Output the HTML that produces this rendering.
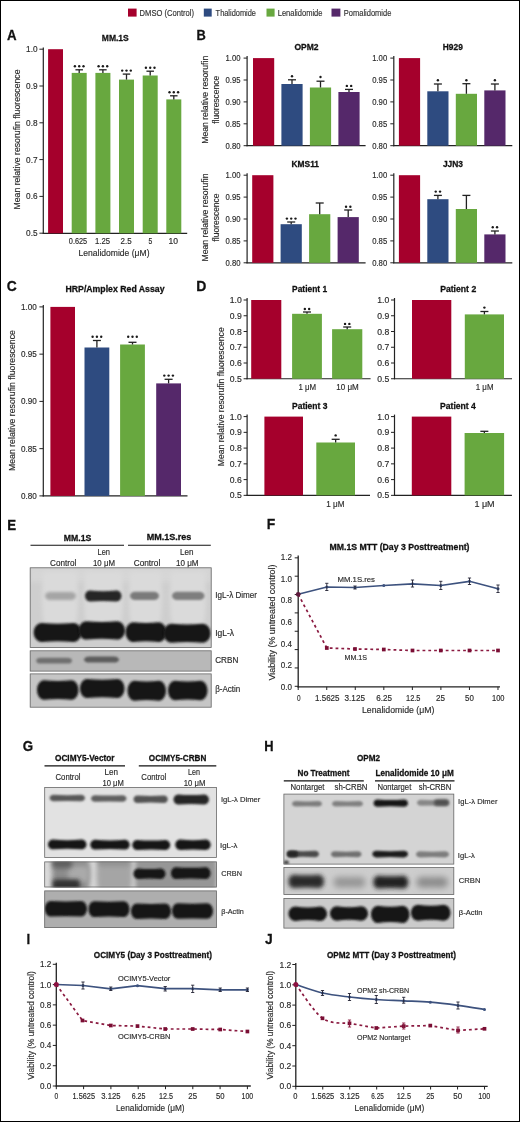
<!DOCTYPE html><html><head><meta charset="utf-8"><title>Figure</title><style>html,body{margin:0;padding:0;background:#fff;width:520px;height:1122px;overflow:hidden;}svg{display:block;font-family:"Liberation Sans",sans-serif;filter:blur(0.35px);}</style></head><body><svg width="520" height="1122" viewBox="0 0 520 1122" font-family="Liberation Sans, sans-serif"><defs><filter id="b4" x="-30%" y="-60%" width="160%" height="220%"><feGaussianBlur stdDeviation="0.4"/></filter><filter id="b5" x="-30%" y="-60%" width="160%" height="220%"><feGaussianBlur stdDeviation="0.5"/></filter><filter id="b6" x="-30%" y="-60%" width="160%" height="220%"><feGaussianBlur stdDeviation="0.6"/></filter><filter id="b7" x="-30%" y="-60%" width="160%" height="220%"><feGaussianBlur stdDeviation="0.7"/></filter><filter id="b8" x="-30%" y="-60%" width="160%" height="220%"><feGaussianBlur stdDeviation="0.8"/></filter><filter id="b9" x="-30%" y="-60%" width="160%" height="220%"><feGaussianBlur stdDeviation="0.9"/></filter><filter id="b10" x="-30%" y="-60%" width="160%" height="220%"><feGaussianBlur stdDeviation="1.0"/></filter><filter id="b11" x="-30%" y="-60%" width="160%" height="220%"><feGaussianBlur stdDeviation="1.1"/></filter><filter id="b12" x="-30%" y="-60%" width="160%" height="220%"><feGaussianBlur stdDeviation="1.2"/></filter><filter id="b13" x="-30%" y="-60%" width="160%" height="220%"><feGaussianBlur stdDeviation="1.3"/></filter><filter id="b14" x="-30%" y="-60%" width="160%" height="220%"><feGaussianBlur stdDeviation="1.4"/></filter><filter id="b15" x="-30%" y="-60%" width="160%" height="220%"><feGaussianBlur stdDeviation="1.5"/></filter><filter id="b16" x="-30%" y="-60%" width="160%" height="220%"><feGaussianBlur stdDeviation="1.6"/></filter><filter id="b17" x="-30%" y="-60%" width="160%" height="220%"><feGaussianBlur stdDeviation="1.7"/></filter><filter id="b18" x="-30%" y="-60%" width="160%" height="220%"><feGaussianBlur stdDeviation="1.8"/></filter><filter id="b19" x="-30%" y="-60%" width="160%" height="220%"><feGaussianBlur stdDeviation="1.9"/></filter><filter id="b20" x="-30%" y="-60%" width="160%" height="220%"><feGaussianBlur stdDeviation="2.0"/></filter><filter id="b21" x="-30%" y="-60%" width="160%" height="220%"><feGaussianBlur stdDeviation="2.1"/></filter><filter id="b22" x="-30%" y="-60%" width="160%" height="220%"><feGaussianBlur stdDeviation="2.2"/></filter><filter id="b23" x="-30%" y="-60%" width="160%" height="220%"><feGaussianBlur stdDeviation="2.3"/></filter><filter id="b24" x="-30%" y="-60%" width="160%" height="220%"><feGaussianBlur stdDeviation="2.4"/></filter><filter id="b25" x="-30%" y="-60%" width="160%" height="220%"><feGaussianBlur stdDeviation="2.5"/></filter><filter id="b26" x="-30%" y="-60%" width="160%" height="220%"><feGaussianBlur stdDeviation="2.6"/></filter><filter id="b27" x="-30%" y="-60%" width="160%" height="220%"><feGaussianBlur stdDeviation="2.7"/></filter><filter id="b28" x="-30%" y="-60%" width="160%" height="220%"><feGaussianBlur stdDeviation="2.8"/></filter><filter id="b29" x="-30%" y="-60%" width="160%" height="220%"><feGaussianBlur stdDeviation="2.9"/></filter><filter id="b30" x="-30%" y="-60%" width="160%" height="220%"><feGaussianBlur stdDeviation="3.0"/></filter><filter id="b31" x="-30%" y="-60%" width="160%" height="220%"><feGaussianBlur stdDeviation="3.1"/></filter><filter id="b32" x="-30%" y="-60%" width="160%" height="220%"><feGaussianBlur stdDeviation="3.2"/></filter><filter id="b33" x="-30%" y="-60%" width="160%" height="220%"><feGaussianBlur stdDeviation="3.3"/></filter><filter id="b34" x="-30%" y="-60%" width="160%" height="220%"><feGaussianBlur stdDeviation="3.4"/></filter><filter id="b35" x="-30%" y="-60%" width="160%" height="220%"><feGaussianBlur stdDeviation="3.5"/></filter><filter id="b36" x="-30%" y="-60%" width="160%" height="220%"><feGaussianBlur stdDeviation="3.6"/></filter><filter id="b37" x="-30%" y="-60%" width="160%" height="220%"><feGaussianBlur stdDeviation="3.7"/></filter><filter id="b38" x="-30%" y="-60%" width="160%" height="220%"><feGaussianBlur stdDeviation="3.8"/></filter><filter id="b39" x="-30%" y="-60%" width="160%" height="220%"><feGaussianBlur stdDeviation="3.9"/></filter><filter id="b40" x="-30%" y="-60%" width="160%" height="220%"><feGaussianBlur stdDeviation="4.0"/></filter><style>text{stroke:#2e2e2e;stroke-width:0.16px} text[font-weight]{stroke:#111;stroke-width:0.26px}</style></defs><rect width="520" height="1122" fill="#fff"/><rect x="0.5" y="0.5" width="519" height="1121" fill="none" stroke="#000" stroke-width="1"/>
<rect x="128.00" y="8.60" width="8.60" height="8.00" fill="#a5002c" />
<rect x="203.80" y="8.60" width="7.90" height="8.00" fill="#2e4b80" />
<rect x="266.50" y="8.60" width="8.10" height="8.00" fill="#68a83f" />
<rect x="331.50" y="8.60" width="8.90" height="8.00" fill="#55286a" />
<text x="139.60" y="15.50" font-size="9.20" fill="#333" textLength="54.40" lengthAdjust="spacingAndGlyphs">DMSO (Control)</text>
<text x="215.60" y="15.50" font-size="9.20" fill="#333" textLength="40.40" lengthAdjust="spacingAndGlyphs">Thalidomide</text>
<text x="277.70" y="15.50" font-size="9.20" fill="#333" textLength="44.80" lengthAdjust="spacingAndGlyphs">Lenalidomide</text>
<text x="343.80" y="15.50" font-size="9.20" fill="#333" textLength="47.50" lengthAdjust="spacingAndGlyphs">Pomalidomide</text>
<text x="7.00" y="39.70" font-size="14.39" font-weight="bold" fill="#111" stroke="#111" stroke-width="0.35" textLength="9.60" lengthAdjust="spacingAndGlyphs">A</text>
<text x="101.80" y="40.70" font-size="9.00" font-weight="bold" stroke="#111" stroke-width="0.22" fill="#111" textLength="27.00" lengthAdjust="spacingAndGlyphs">MM.1S</text>
<line x1="43.30" y1="47.50" x2="43.30" y2="233.80" stroke="#222" stroke-width="1.2" />
<line x1="42.70" y1="233.30" x2="187.20" y2="233.30" stroke="#222" stroke-width="1.2" />
<line x1="39.40" y1="49.20" x2="43.30" y2="49.20" stroke="#222" stroke-width="1.0" />
<text x="37.60" y="52.20" font-size="8.60" fill="#2a2a2a" text-anchor="end" textLength="11.50" lengthAdjust="spacingAndGlyphs">1.0</text>
<line x1="39.40" y1="86.00" x2="43.30" y2="86.00" stroke="#222" stroke-width="1.0" />
<text x="37.60" y="89.00" font-size="8.60" fill="#2a2a2a" text-anchor="end" textLength="11.50" lengthAdjust="spacingAndGlyphs">0.9</text>
<line x1="39.40" y1="122.80" x2="43.30" y2="122.80" stroke="#222" stroke-width="1.0" />
<text x="37.60" y="125.80" font-size="8.60" fill="#2a2a2a" text-anchor="end" textLength="11.50" lengthAdjust="spacingAndGlyphs">0.8</text>
<line x1="39.40" y1="159.60" x2="43.30" y2="159.60" stroke="#222" stroke-width="1.0" />
<text x="37.60" y="162.60" font-size="8.60" fill="#2a2a2a" text-anchor="end" textLength="11.50" lengthAdjust="spacingAndGlyphs">0.7</text>
<line x1="39.40" y1="196.40" x2="43.30" y2="196.40" stroke="#222" stroke-width="1.0" />
<text x="37.60" y="199.40" font-size="8.60" fill="#2a2a2a" text-anchor="end" textLength="11.50" lengthAdjust="spacingAndGlyphs">0.6</text>
<line x1="39.40" y1="233.20" x2="43.30" y2="233.20" stroke="#222" stroke-width="1.0" />
<text x="37.60" y="236.20" font-size="8.60" fill="#2a2a2a" text-anchor="end" textLength="11.50" lengthAdjust="spacingAndGlyphs">0.5</text>
<text transform="translate(19.54,139.50) rotate(-90)" x="0" y="0" font-size="8.60" fill="#2a2a2a" text-anchor="middle" textLength="140.00" lengthAdjust="spacingAndGlyphs">Mean relative resorufin fluorescence</text>
<rect x="48.10" y="49.20" width="14.90" height="184.10" fill="#a5002c" />
<rect x="71.70" y="72.90" width="15.00" height="160.40" fill="#68a83f" />
<line x1="79.20" y1="72.90" x2="79.20" y2="69.80" stroke="#222" stroke-width="1.3" />
<line x1="75.45" y1="69.80" x2="82.95" y2="69.80" stroke="#222" stroke-width="1.3" />
<circle cx="74.90" cy="66.30" r="1.2" fill="#1a1a1a"/>
<circle cx="79.20" cy="66.30" r="1.2" fill="#1a1a1a"/>
<circle cx="83.50" cy="66.30" r="1.2" fill="#1a1a1a"/>
<rect x="95.40" y="72.90" width="15.00" height="160.40" fill="#68a83f" />
<line x1="102.90" y1="72.90" x2="102.90" y2="69.80" stroke="#222" stroke-width="1.3" />
<line x1="99.15" y1="69.80" x2="106.65" y2="69.80" stroke="#222" stroke-width="1.3" />
<circle cx="98.60" cy="66.30" r="1.2" fill="#1a1a1a"/>
<circle cx="102.90" cy="66.30" r="1.2" fill="#1a1a1a"/>
<circle cx="107.20" cy="66.30" r="1.2" fill="#1a1a1a"/>
<rect x="119.00" y="79.60" width="15.00" height="153.70" fill="#68a83f" />
<line x1="126.50" y1="79.60" x2="126.50" y2="74.10" stroke="#222" stroke-width="1.3" />
<line x1="122.75" y1="74.10" x2="130.25" y2="74.10" stroke="#222" stroke-width="1.3" />
<circle cx="122.20" cy="70.60" r="1.2" fill="#1a1a1a"/>
<circle cx="126.50" cy="70.60" r="1.2" fill="#1a1a1a"/>
<circle cx="130.80" cy="70.60" r="1.2" fill="#1a1a1a"/>
<rect x="142.70" y="75.50" width="15.00" height="157.80" fill="#68a83f" />
<line x1="150.20" y1="75.50" x2="150.20" y2="71.20" stroke="#222" stroke-width="1.3" />
<line x1="146.45" y1="71.20" x2="153.95" y2="71.20" stroke="#222" stroke-width="1.3" />
<circle cx="145.90" cy="67.70" r="1.2" fill="#1a1a1a"/>
<circle cx="150.20" cy="67.70" r="1.2" fill="#1a1a1a"/>
<circle cx="154.50" cy="67.70" r="1.2" fill="#1a1a1a"/>
<rect x="166.30" y="99.40" width="15.00" height="133.90" fill="#68a83f" />
<line x1="173.80" y1="99.40" x2="173.80" y2="95.80" stroke="#222" stroke-width="1.3" />
<line x1="170.05" y1="95.80" x2="177.55" y2="95.80" stroke="#222" stroke-width="1.3" />
<circle cx="169.50" cy="92.30" r="1.2" fill="#1a1a1a"/>
<circle cx="173.80" cy="92.30" r="1.2" fill="#1a1a1a"/>
<circle cx="178.10" cy="92.30" r="1.2" fill="#1a1a1a"/>
<text x="68.80" y="243.80" font-size="8.30" fill="#2a2a2a" textLength="18.40" lengthAdjust="spacingAndGlyphs">0.625</text>
<text x="95.00" y="243.80" font-size="8.30" fill="#2a2a2a" textLength="15.00" lengthAdjust="spacingAndGlyphs">1.25</text>
<text x="120.50" y="243.80" font-size="8.30" fill="#2a2a2a" textLength="11.10" lengthAdjust="spacingAndGlyphs">2.5</text>
<text x="148.50" y="243.80" font-size="8.30" fill="#2a2a2a" textLength="3.80" lengthAdjust="spacingAndGlyphs">5</text>
<text x="168.50" y="243.80" font-size="8.30" fill="#2a2a2a" textLength="9.50" lengthAdjust="spacingAndGlyphs">10</text>
<text x="78.50" y="256.30" font-size="9.20" fill="#2a2a2a" textLength="71.00" lengthAdjust="spacingAndGlyphs">Lenalidomide (μM)</text>
<text x="196.40" y="39.70" font-size="14.24" font-weight="bold" fill="#111" stroke="#111" stroke-width="0.35" textLength="9.30" lengthAdjust="spacingAndGlyphs">B</text>
<line x1="247.10" y1="56.10" x2="247.10" y2="146.20" stroke="#222" stroke-width="1.2" />
<line x1="246.50" y1="145.70" x2="365.60" y2="145.70" stroke="#222" stroke-width="1.2" />
<line x1="243.60" y1="58.10" x2="247.10" y2="58.10" stroke="#222" stroke-width="1.0" />
<text x="240.50" y="61.10" font-size="8.40" fill="#2a2a2a" text-anchor="end" textLength="15.00" lengthAdjust="spacingAndGlyphs">1.00</text>
<line x1="243.60" y1="80.00" x2="247.10" y2="80.00" stroke="#222" stroke-width="1.0" />
<text x="240.50" y="83.00" font-size="8.40" fill="#2a2a2a" text-anchor="end" textLength="15.00" lengthAdjust="spacingAndGlyphs">0.95</text>
<line x1="243.60" y1="101.90" x2="247.10" y2="101.90" stroke="#222" stroke-width="1.0" />
<text x="240.50" y="104.90" font-size="8.40" fill="#2a2a2a" text-anchor="end" textLength="15.00" lengthAdjust="spacingAndGlyphs">0.90</text>
<line x1="243.60" y1="123.80" x2="247.10" y2="123.80" stroke="#222" stroke-width="1.0" />
<text x="240.50" y="126.80" font-size="8.40" fill="#2a2a2a" text-anchor="end" textLength="15.00" lengthAdjust="spacingAndGlyphs">0.85</text>
<line x1="243.60" y1="145.70" x2="247.10" y2="145.70" stroke="#222" stroke-width="1.0" />
<text x="240.50" y="148.70" font-size="8.40" fill="#2a2a2a" text-anchor="end" textLength="15.00" lengthAdjust="spacingAndGlyphs">0.80</text>
<text x="294.40" y="49.90" font-size="8.20" font-weight="bold" stroke="#111" stroke-width="0.22" fill="#111" textLength="24.10" lengthAdjust="spacingAndGlyphs">OPM2</text>
<rect x="253.00" y="58.10" width="21.20" height="87.60" fill="#a5002c" />
<rect x="281.40" y="84.00" width="21.20" height="61.70" fill="#2e4b80" />
<line x1="292.00" y1="84.00" x2="292.00" y2="79.80" stroke="#222" stroke-width="1.3" />
<line x1="288.00" y1="79.80" x2="296.00" y2="79.80" stroke="#222" stroke-width="1.3" />
<circle cx="292.00" cy="76.30" r="1.2" fill="#1a1a1a"/>
<rect x="309.90" y="87.50" width="21.20" height="58.20" fill="#68a83f" />
<line x1="320.50" y1="87.50" x2="320.50" y2="81.20" stroke="#222" stroke-width="1.3" />
<line x1="316.50" y1="81.20" x2="324.50" y2="81.20" stroke="#222" stroke-width="1.3" />
<circle cx="320.50" cy="77.00" r="1.2" fill="#1a1a1a"/>
<rect x="338.40" y="92.00" width="21.20" height="53.70" fill="#55286a" />
<line x1="349.00" y1="92.00" x2="349.00" y2="89.40" stroke="#222" stroke-width="1.3" />
<line x1="345.00" y1="89.40" x2="353.00" y2="89.40" stroke="#222" stroke-width="1.3" />
<circle cx="346.85" cy="85.90" r="1.2" fill="#1a1a1a"/>
<circle cx="351.15" cy="85.90" r="1.2" fill="#1a1a1a"/>
<line x1="393.80" y1="56.10" x2="393.80" y2="146.20" stroke="#222" stroke-width="1.2" />
<line x1="393.20" y1="145.70" x2="512.30" y2="145.70" stroke="#222" stroke-width="1.2" />
<line x1="390.30" y1="58.10" x2="393.80" y2="58.10" stroke="#222" stroke-width="1.0" />
<text x="387.20" y="61.10" font-size="8.40" fill="#2a2a2a" text-anchor="end" textLength="15.00" lengthAdjust="spacingAndGlyphs">1.00</text>
<line x1="390.30" y1="80.00" x2="393.80" y2="80.00" stroke="#222" stroke-width="1.0" />
<text x="387.20" y="83.00" font-size="8.40" fill="#2a2a2a" text-anchor="end" textLength="15.00" lengthAdjust="spacingAndGlyphs">0.95</text>
<line x1="390.30" y1="101.90" x2="393.80" y2="101.90" stroke="#222" stroke-width="1.0" />
<text x="387.20" y="104.90" font-size="8.40" fill="#2a2a2a" text-anchor="end" textLength="15.00" lengthAdjust="spacingAndGlyphs">0.90</text>
<line x1="390.30" y1="123.80" x2="393.80" y2="123.80" stroke="#222" stroke-width="1.0" />
<text x="387.20" y="126.80" font-size="8.40" fill="#2a2a2a" text-anchor="end" textLength="15.00" lengthAdjust="spacingAndGlyphs">0.85</text>
<line x1="390.30" y1="145.70" x2="393.80" y2="145.70" stroke="#222" stroke-width="1.0" />
<text x="387.20" y="148.70" font-size="8.40" fill="#2a2a2a" text-anchor="end" textLength="15.00" lengthAdjust="spacingAndGlyphs">0.80</text>
<text x="442.80" y="49.90" font-size="8.20" font-weight="bold" stroke="#111" stroke-width="0.22" fill="#111" textLength="20.00" lengthAdjust="spacingAndGlyphs">H929</text>
<rect x="398.90" y="58.10" width="21.20" height="87.60" fill="#a5002c" />
<rect x="427.30" y="91.30" width="21.20" height="54.40" fill="#2e4b80" />
<line x1="437.90" y1="91.30" x2="437.90" y2="84.00" stroke="#222" stroke-width="1.3" />
<line x1="433.90" y1="84.00" x2="441.90" y2="84.00" stroke="#222" stroke-width="1.3" />
<circle cx="437.90" cy="80.30" r="1.2" fill="#1a1a1a"/>
<rect x="455.80" y="93.80" width="21.20" height="51.90" fill="#68a83f" />
<line x1="466.40" y1="93.80" x2="466.40" y2="83.70" stroke="#222" stroke-width="1.3" />
<line x1="462.40" y1="83.70" x2="470.40" y2="83.70" stroke="#222" stroke-width="1.3" />
<circle cx="466.40" cy="80.30" r="1.2" fill="#1a1a1a"/>
<rect x="484.30" y="90.40" width="21.20" height="55.30" fill="#55286a" />
<line x1="494.90" y1="90.40" x2="494.90" y2="84.00" stroke="#222" stroke-width="1.3" />
<line x1="490.90" y1="84.00" x2="498.90" y2="84.00" stroke="#222" stroke-width="1.3" />
<circle cx="494.90" cy="80.30" r="1.2" fill="#1a1a1a"/>
<line x1="247.10" y1="173.20" x2="247.10" y2="263.30" stroke="#222" stroke-width="1.2" />
<line x1="246.50" y1="262.80" x2="365.60" y2="262.80" stroke="#222" stroke-width="1.2" />
<line x1="243.60" y1="175.20" x2="247.10" y2="175.20" stroke="#222" stroke-width="1.0" />
<text x="240.50" y="178.20" font-size="8.40" fill="#2a2a2a" text-anchor="end" textLength="15.00" lengthAdjust="spacingAndGlyphs">1.00</text>
<line x1="243.60" y1="197.10" x2="247.10" y2="197.10" stroke="#222" stroke-width="1.0" />
<text x="240.50" y="200.10" font-size="8.40" fill="#2a2a2a" text-anchor="end" textLength="15.00" lengthAdjust="spacingAndGlyphs">0.95</text>
<line x1="243.60" y1="219.00" x2="247.10" y2="219.00" stroke="#222" stroke-width="1.0" />
<text x="240.50" y="222.00" font-size="8.40" fill="#2a2a2a" text-anchor="end" textLength="15.00" lengthAdjust="spacingAndGlyphs">0.90</text>
<line x1="243.60" y1="240.90" x2="247.10" y2="240.90" stroke="#222" stroke-width="1.0" />
<text x="240.50" y="243.90" font-size="8.40" fill="#2a2a2a" text-anchor="end" textLength="15.00" lengthAdjust="spacingAndGlyphs">0.85</text>
<line x1="243.60" y1="262.80" x2="247.10" y2="262.80" stroke="#222" stroke-width="1.0" />
<text x="240.50" y="265.80" font-size="8.40" fill="#2a2a2a" text-anchor="end" textLength="15.00" lengthAdjust="spacingAndGlyphs">0.80</text>
<text x="291.50" y="167.00" font-size="8.20" font-weight="bold" stroke="#111" stroke-width="0.22" fill="#111" textLength="27.50" lengthAdjust="spacingAndGlyphs">KMS11</text>
<rect x="252.20" y="175.20" width="21.20" height="87.60" fill="#a5002c" />
<rect x="280.60" y="224.20" width="21.20" height="38.60" fill="#2e4b80" />
<line x1="291.20" y1="224.20" x2="291.20" y2="222.00" stroke="#222" stroke-width="1.3" />
<line x1="287.20" y1="222.00" x2="295.20" y2="222.00" stroke="#222" stroke-width="1.3" />
<circle cx="286.90" cy="218.60" r="1.2" fill="#1a1a1a"/>
<circle cx="291.20" cy="218.60" r="1.2" fill="#1a1a1a"/>
<circle cx="295.50" cy="218.60" r="1.2" fill="#1a1a1a"/>
<rect x="309.10" y="214.20" width="21.20" height="48.60" fill="#68a83f" />
<line x1="319.70" y1="214.20" x2="319.70" y2="203.00" stroke="#222" stroke-width="1.3" />
<line x1="315.70" y1="203.00" x2="323.70" y2="203.00" stroke="#222" stroke-width="1.3" />
<rect x="337.60" y="217.10" width="21.20" height="45.70" fill="#55286a" />
<line x1="348.20" y1="217.10" x2="348.20" y2="210.00" stroke="#222" stroke-width="1.3" />
<line x1="344.20" y1="210.00" x2="352.20" y2="210.00" stroke="#222" stroke-width="1.3" />
<circle cx="346.05" cy="206.80" r="1.2" fill="#1a1a1a"/>
<circle cx="350.35" cy="206.80" r="1.2" fill="#1a1a1a"/>
<line x1="393.80" y1="173.20" x2="393.80" y2="263.30" stroke="#222" stroke-width="1.2" />
<line x1="393.20" y1="262.80" x2="512.30" y2="262.80" stroke="#222" stroke-width="1.2" />
<line x1="390.30" y1="175.20" x2="393.80" y2="175.20" stroke="#222" stroke-width="1.0" />
<text x="387.20" y="178.20" font-size="8.40" fill="#2a2a2a" text-anchor="end" textLength="15.00" lengthAdjust="spacingAndGlyphs">1.00</text>
<line x1="390.30" y1="197.10" x2="393.80" y2="197.10" stroke="#222" stroke-width="1.0" />
<text x="387.20" y="200.10" font-size="8.40" fill="#2a2a2a" text-anchor="end" textLength="15.00" lengthAdjust="spacingAndGlyphs">0.95</text>
<line x1="390.30" y1="219.00" x2="393.80" y2="219.00" stroke="#222" stroke-width="1.0" />
<text x="387.20" y="222.00" font-size="8.40" fill="#2a2a2a" text-anchor="end" textLength="15.00" lengthAdjust="spacingAndGlyphs">0.90</text>
<line x1="390.30" y1="240.90" x2="393.80" y2="240.90" stroke="#222" stroke-width="1.0" />
<text x="387.20" y="243.90" font-size="8.40" fill="#2a2a2a" text-anchor="end" textLength="15.00" lengthAdjust="spacingAndGlyphs">0.85</text>
<line x1="390.30" y1="262.80" x2="393.80" y2="262.80" stroke="#222" stroke-width="1.0" />
<text x="387.20" y="265.80" font-size="8.40" fill="#2a2a2a" text-anchor="end" textLength="15.00" lengthAdjust="spacingAndGlyphs">0.80</text>
<text x="442.90" y="167.00" font-size="8.20" font-weight="bold" stroke="#111" stroke-width="0.22" fill="#111" textLength="20.10" lengthAdjust="spacingAndGlyphs">JJN3</text>
<rect x="398.90" y="175.20" width="21.20" height="87.60" fill="#a5002c" />
<rect x="427.30" y="199.20" width="21.20" height="63.60" fill="#2e4b80" />
<line x1="437.90" y1="199.20" x2="437.90" y2="195.40" stroke="#222" stroke-width="1.3" />
<line x1="433.90" y1="195.40" x2="441.90" y2="195.40" stroke="#222" stroke-width="1.3" />
<circle cx="435.75" cy="191.60" r="1.2" fill="#1a1a1a"/>
<circle cx="440.05" cy="191.60" r="1.2" fill="#1a1a1a"/>
<rect x="455.80" y="209.00" width="21.20" height="53.80" fill="#68a83f" />
<line x1="466.40" y1="209.00" x2="466.40" y2="195.40" stroke="#222" stroke-width="1.3" />
<line x1="462.40" y1="195.40" x2="470.40" y2="195.40" stroke="#222" stroke-width="1.3" />
<rect x="484.30" y="234.40" width="21.20" height="28.40" fill="#55286a" />
<line x1="494.90" y1="234.40" x2="494.90" y2="231.00" stroke="#222" stroke-width="1.3" />
<line x1="490.90" y1="231.00" x2="498.90" y2="231.00" stroke="#222" stroke-width="1.3" />
<circle cx="492.75" cy="227.30" r="1.2" fill="#1a1a1a"/>
<circle cx="497.05" cy="227.30" r="1.2" fill="#1a1a1a"/>
<text transform="translate(207.84,99.80) rotate(-90)" x="0" y="0" font-size="8.60" fill="#2a2a2a" text-anchor="middle" textLength="88.00" lengthAdjust="spacingAndGlyphs">Mean relative resorufin</text>
<text transform="translate(219.44,99.80) rotate(-90)" x="0" y="0" font-size="8.60" fill="#2a2a2a" text-anchor="middle" textLength="48.00" lengthAdjust="spacingAndGlyphs">fluorescence</text>
<text transform="translate(207.84,217.50) rotate(-90)" x="0" y="0" font-size="8.60" fill="#2a2a2a" text-anchor="middle" textLength="88.00" lengthAdjust="spacingAndGlyphs">Mean relative resorufin</text>
<text transform="translate(219.44,217.50) rotate(-90)" x="0" y="0" font-size="8.60" fill="#2a2a2a" text-anchor="middle" textLength="48.00" lengthAdjust="spacingAndGlyphs">fluorescence</text>
<text x="6.80" y="291.20" font-size="14.53" font-weight="bold" fill="#111" stroke="#111" stroke-width="0.35" textLength="10.00" lengthAdjust="spacingAndGlyphs">C</text>
<text x="65.50" y="292.10" font-size="8.30" font-weight="bold" stroke="#111" stroke-width="0.22" fill="#111" textLength="99.00" lengthAdjust="spacingAndGlyphs">HRP/Amplex Red Assay</text>
<line x1="43.30" y1="304.90" x2="43.30" y2="496.40" stroke="#222" stroke-width="1.2" />
<line x1="42.70" y1="495.90" x2="187.50" y2="495.90" stroke="#222" stroke-width="1.2" />
<line x1="39.40" y1="306.90" x2="43.30" y2="306.90" stroke="#222" stroke-width="1.0" />
<text x="36.80" y="309.90" font-size="8.40" fill="#2a2a2a" text-anchor="end" textLength="15.80" lengthAdjust="spacingAndGlyphs">1.00</text>
<line x1="39.40" y1="354.15" x2="43.30" y2="354.15" stroke="#222" stroke-width="1.0" />
<text x="36.80" y="357.15" font-size="8.40" fill="#2a2a2a" text-anchor="end" textLength="15.80" lengthAdjust="spacingAndGlyphs">0.95</text>
<line x1="39.40" y1="401.40" x2="43.30" y2="401.40" stroke="#222" stroke-width="1.0" />
<text x="36.80" y="404.40" font-size="8.40" fill="#2a2a2a" text-anchor="end" textLength="15.80" lengthAdjust="spacingAndGlyphs">0.90</text>
<line x1="39.40" y1="448.65" x2="43.30" y2="448.65" stroke="#222" stroke-width="1.0" />
<text x="36.80" y="451.65" font-size="8.40" fill="#2a2a2a" text-anchor="end" textLength="15.80" lengthAdjust="spacingAndGlyphs">0.85</text>
<line x1="39.40" y1="495.90" x2="43.30" y2="495.90" stroke="#222" stroke-width="1.0" />
<text x="36.80" y="498.90" font-size="8.40" fill="#2a2a2a" text-anchor="end" textLength="15.80" lengthAdjust="spacingAndGlyphs">0.80</text>
<text transform="translate(15.24,400.60) rotate(-90)" x="0" y="0" font-size="8.60" fill="#2a2a2a" text-anchor="middle" textLength="141.00" lengthAdjust="spacingAndGlyphs">Mean relative resorufin fluorescence</text>
<rect x="50.40" y="306.90" width="24.60" height="189.00" fill="#a5002c" />
<rect x="84.50" y="347.50" width="24.80" height="148.40" fill="#2e4b80" />
<line x1="96.90" y1="347.50" x2="96.90" y2="340.50" stroke="#222" stroke-width="1.3" />
<line x1="92.90" y1="340.50" x2="100.90" y2="340.50" stroke="#222" stroke-width="1.3" />
<circle cx="92.60" cy="336.80" r="1.2" fill="#1a1a1a"/>
<circle cx="96.90" cy="336.80" r="1.2" fill="#1a1a1a"/>
<circle cx="101.20" cy="336.80" r="1.2" fill="#1a1a1a"/>
<rect x="120.10" y="344.50" width="24.80" height="151.40" fill="#68a83f" />
<line x1="132.50" y1="344.50" x2="132.50" y2="342.30" stroke="#222" stroke-width="1.3" />
<line x1="128.50" y1="342.30" x2="136.50" y2="342.30" stroke="#222" stroke-width="1.3" />
<circle cx="128.20" cy="336.80" r="1.2" fill="#1a1a1a"/>
<circle cx="132.50" cy="336.80" r="1.2" fill="#1a1a1a"/>
<circle cx="136.80" cy="336.80" r="1.2" fill="#1a1a1a"/>
<rect x="156.20" y="383.40" width="24.80" height="112.50" fill="#55286a" />
<line x1="168.60" y1="383.40" x2="168.60" y2="379.30" stroke="#222" stroke-width="1.3" />
<line x1="164.60" y1="379.30" x2="172.60" y2="379.30" stroke="#222" stroke-width="1.3" />
<circle cx="164.30" cy="375.60" r="1.2" fill="#1a1a1a"/>
<circle cx="168.60" cy="375.60" r="1.2" fill="#1a1a1a"/>
<circle cx="172.90" cy="375.60" r="1.2" fill="#1a1a1a"/>
<text x="196.20" y="291.00" font-size="14.53" font-weight="bold" fill="#111" stroke="#111" stroke-width="0.35" textLength="10.10" lengthAdjust="spacingAndGlyphs">D</text>
<line x1="247.10" y1="298.00" x2="247.10" y2="379.25" stroke="#222" stroke-width="1.2" />
<line x1="246.50" y1="378.75" x2="370.60" y2="378.75" stroke="#222" stroke-width="1.2" />
<line x1="243.60" y1="300.00" x2="247.10" y2="300.00" stroke="#222" stroke-width="1.0" />
<text x="241.80" y="303.00" font-size="8.40" fill="#2a2a2a" text-anchor="end" textLength="12.00" lengthAdjust="spacingAndGlyphs">1.0</text>
<line x1="243.60" y1="315.75" x2="247.10" y2="315.75" stroke="#222" stroke-width="1.0" />
<text x="241.80" y="318.75" font-size="8.40" fill="#2a2a2a" text-anchor="end" textLength="12.00" lengthAdjust="spacingAndGlyphs">0.9</text>
<line x1="243.60" y1="331.50" x2="247.10" y2="331.50" stroke="#222" stroke-width="1.0" />
<text x="241.80" y="334.50" font-size="8.40" fill="#2a2a2a" text-anchor="end" textLength="12.00" lengthAdjust="spacingAndGlyphs">0.8</text>
<line x1="243.60" y1="347.25" x2="247.10" y2="347.25" stroke="#222" stroke-width="1.0" />
<text x="241.80" y="350.25" font-size="8.40" fill="#2a2a2a" text-anchor="end" textLength="12.00" lengthAdjust="spacingAndGlyphs">0.7</text>
<line x1="243.60" y1="363.00" x2="247.10" y2="363.00" stroke="#222" stroke-width="1.0" />
<text x="241.80" y="366.00" font-size="8.40" fill="#2a2a2a" text-anchor="end" textLength="12.00" lengthAdjust="spacingAndGlyphs">0.6</text>
<line x1="243.60" y1="378.75" x2="247.10" y2="378.75" stroke="#222" stroke-width="1.0" />
<text x="241.80" y="381.75" font-size="8.40" fill="#2a2a2a" text-anchor="end" textLength="12.00" lengthAdjust="spacingAndGlyphs">0.5</text>
<text x="292.10" y="292.40" font-size="8.60" font-weight="bold" stroke="#111" stroke-width="0.22" fill="#111" textLength="35.00" lengthAdjust="spacingAndGlyphs">Patient 1</text>
<rect x="251.20" y="300.00" width="30.10" height="78.75" fill="#a5002c" />
<rect x="292.10" y="313.80" width="29.80" height="64.95" fill="#68a83f" />
<line x1="307.00" y1="313.80" x2="307.00" y2="312.00" stroke="#222" stroke-width="1.3" />
<line x1="303.00" y1="312.00" x2="311.00" y2="312.00" stroke="#222" stroke-width="1.3" />
<circle cx="304.85" cy="309.00" r="1.2" fill="#1a1a1a"/>
<circle cx="309.15" cy="309.00" r="1.2" fill="#1a1a1a"/>
<rect x="332.10" y="329.20" width="30.20" height="49.55" fill="#68a83f" />
<line x1="347.20" y1="329.20" x2="347.20" y2="327.00" stroke="#222" stroke-width="1.3" />
<line x1="343.20" y1="327.00" x2="351.20" y2="327.00" stroke="#222" stroke-width="1.3" />
<circle cx="345.05" cy="323.90" r="1.2" fill="#1a1a1a"/>
<circle cx="349.35" cy="323.90" r="1.2" fill="#1a1a1a"/>
<text x="298.50" y="390.05" font-size="8.20" fill="#2a2a2a" textLength="17.70" lengthAdjust="spacingAndGlyphs">1 μM</text>
<text x="336.30" y="390.05" font-size="8.20" fill="#2a2a2a" textLength="22.50" lengthAdjust="spacingAndGlyphs">10 μM</text>
<line x1="394.50" y1="298.00" x2="394.50" y2="379.25" stroke="#222" stroke-width="1.2" />
<line x1="393.90" y1="378.75" x2="512.00" y2="378.75" stroke="#222" stroke-width="1.2" />
<line x1="391.00" y1="300.00" x2="394.50" y2="300.00" stroke="#222" stroke-width="1.0" />
<text x="389.20" y="303.00" font-size="8.40" fill="#2a2a2a" text-anchor="end" textLength="12.00" lengthAdjust="spacingAndGlyphs">1.0</text>
<line x1="391.00" y1="315.75" x2="394.50" y2="315.75" stroke="#222" stroke-width="1.0" />
<text x="389.20" y="318.75" font-size="8.40" fill="#2a2a2a" text-anchor="end" textLength="12.00" lengthAdjust="spacingAndGlyphs">0.9</text>
<line x1="391.00" y1="331.50" x2="394.50" y2="331.50" stroke="#222" stroke-width="1.0" />
<text x="389.20" y="334.50" font-size="8.40" fill="#2a2a2a" text-anchor="end" textLength="12.00" lengthAdjust="spacingAndGlyphs">0.8</text>
<line x1="391.00" y1="347.25" x2="394.50" y2="347.25" stroke="#222" stroke-width="1.0" />
<text x="389.20" y="350.25" font-size="8.40" fill="#2a2a2a" text-anchor="end" textLength="12.00" lengthAdjust="spacingAndGlyphs">0.7</text>
<line x1="391.00" y1="363.00" x2="394.50" y2="363.00" stroke="#222" stroke-width="1.0" />
<text x="389.20" y="366.00" font-size="8.40" fill="#2a2a2a" text-anchor="end" textLength="12.00" lengthAdjust="spacingAndGlyphs">0.6</text>
<line x1="391.00" y1="378.75" x2="394.50" y2="378.75" stroke="#222" stroke-width="1.0" />
<text x="389.20" y="381.75" font-size="8.40" fill="#2a2a2a" text-anchor="end" textLength="12.00" lengthAdjust="spacingAndGlyphs">0.5</text>
<text x="440.20" y="292.40" font-size="8.60" font-weight="bold" stroke="#111" stroke-width="0.22" fill="#111" textLength="36.00" lengthAdjust="spacingAndGlyphs">Patient 2</text>
<rect x="412.00" y="300.00" width="39.30" height="78.75" fill="#a5002c" />
<rect x="464.80" y="314.40" width="39.20" height="64.35" fill="#68a83f" />
<line x1="484.40" y1="314.40" x2="484.40" y2="311.50" stroke="#222" stroke-width="1.3" />
<line x1="480.40" y1="311.50" x2="488.40" y2="311.50" stroke="#222" stroke-width="1.3" />
<circle cx="484.40" cy="307.60" r="1.2" fill="#1a1a1a"/>
<text x="475.80" y="390.05" font-size="8.20" fill="#2a2a2a" textLength="17.70" lengthAdjust="spacingAndGlyphs">1 μM</text>
<line x1="247.10" y1="414.60" x2="247.10" y2="495.85" stroke="#222" stroke-width="1.2" />
<line x1="246.50" y1="495.35" x2="370.00" y2="495.35" stroke="#222" stroke-width="1.2" />
<line x1="243.60" y1="416.60" x2="247.10" y2="416.60" stroke="#222" stroke-width="1.0" />
<text x="241.80" y="419.60" font-size="8.40" fill="#2a2a2a" text-anchor="end" textLength="12.00" lengthAdjust="spacingAndGlyphs">1.0</text>
<line x1="243.60" y1="432.35" x2="247.10" y2="432.35" stroke="#222" stroke-width="1.0" />
<text x="241.80" y="435.35" font-size="8.40" fill="#2a2a2a" text-anchor="end" textLength="12.00" lengthAdjust="spacingAndGlyphs">0.9</text>
<line x1="243.60" y1="448.10" x2="247.10" y2="448.10" stroke="#222" stroke-width="1.0" />
<text x="241.80" y="451.10" font-size="8.40" fill="#2a2a2a" text-anchor="end" textLength="12.00" lengthAdjust="spacingAndGlyphs">0.8</text>
<line x1="243.60" y1="463.85" x2="247.10" y2="463.85" stroke="#222" stroke-width="1.0" />
<text x="241.80" y="466.85" font-size="8.40" fill="#2a2a2a" text-anchor="end" textLength="12.00" lengthAdjust="spacingAndGlyphs">0.7</text>
<line x1="243.60" y1="479.60" x2="247.10" y2="479.60" stroke="#222" stroke-width="1.0" />
<text x="241.80" y="482.60" font-size="8.40" fill="#2a2a2a" text-anchor="end" textLength="12.00" lengthAdjust="spacingAndGlyphs">0.6</text>
<line x1="243.60" y1="495.35" x2="247.10" y2="495.35" stroke="#222" stroke-width="1.0" />
<text x="241.80" y="498.35" font-size="8.40" fill="#2a2a2a" text-anchor="end" textLength="12.00" lengthAdjust="spacingAndGlyphs">0.5</text>
<text x="292.00" y="408.90" font-size="8.60" font-weight="bold" stroke="#111" stroke-width="0.22" fill="#111" textLength="35.50" lengthAdjust="spacingAndGlyphs">Patient 3</text>
<rect x="264.40" y="416.60" width="38.60" height="78.75" fill="#a5002c" />
<rect x="316.30" y="442.50" width="38.70" height="52.85" fill="#68a83f" />
<line x1="335.65" y1="442.50" x2="335.65" y2="439.30" stroke="#222" stroke-width="1.3" />
<line x1="331.65" y1="439.30" x2="339.65" y2="439.30" stroke="#222" stroke-width="1.3" />
<circle cx="335.65" cy="435.40" r="1.2" fill="#1a1a1a"/>
<text x="326.30" y="506.65" font-size="8.20" fill="#2a2a2a" textLength="18.20" lengthAdjust="spacingAndGlyphs">1 μM</text>
<line x1="394.50" y1="414.60" x2="394.50" y2="495.85" stroke="#222" stroke-width="1.2" />
<line x1="393.90" y1="495.35" x2="511.90" y2="495.35" stroke="#222" stroke-width="1.2" />
<line x1="391.00" y1="416.60" x2="394.50" y2="416.60" stroke="#222" stroke-width="1.0" />
<text x="389.20" y="419.60" font-size="8.40" fill="#2a2a2a" text-anchor="end" textLength="12.00" lengthAdjust="spacingAndGlyphs">1.0</text>
<line x1="391.00" y1="432.35" x2="394.50" y2="432.35" stroke="#222" stroke-width="1.0" />
<text x="389.20" y="435.35" font-size="8.40" fill="#2a2a2a" text-anchor="end" textLength="12.00" lengthAdjust="spacingAndGlyphs">0.9</text>
<line x1="391.00" y1="448.10" x2="394.50" y2="448.10" stroke="#222" stroke-width="1.0" />
<text x="389.20" y="451.10" font-size="8.40" fill="#2a2a2a" text-anchor="end" textLength="12.00" lengthAdjust="spacingAndGlyphs">0.8</text>
<line x1="391.00" y1="463.85" x2="394.50" y2="463.85" stroke="#222" stroke-width="1.0" />
<text x="389.20" y="466.85" font-size="8.40" fill="#2a2a2a" text-anchor="end" textLength="12.00" lengthAdjust="spacingAndGlyphs">0.7</text>
<line x1="391.00" y1="479.60" x2="394.50" y2="479.60" stroke="#222" stroke-width="1.0" />
<text x="389.20" y="482.60" font-size="8.40" fill="#2a2a2a" text-anchor="end" textLength="12.00" lengthAdjust="spacingAndGlyphs">0.6</text>
<line x1="391.00" y1="495.35" x2="394.50" y2="495.35" stroke="#222" stroke-width="1.0" />
<text x="389.20" y="498.35" font-size="8.40" fill="#2a2a2a" text-anchor="end" textLength="12.00" lengthAdjust="spacingAndGlyphs">0.5</text>
<text x="440.00" y="408.90" font-size="8.60" font-weight="bold" stroke="#111" stroke-width="0.22" fill="#111" textLength="35.90" lengthAdjust="spacingAndGlyphs">Patient 4</text>
<rect x="411.80" y="416.60" width="39.50" height="78.75" fill="#a5002c" />
<rect x="464.60" y="433.00" width="39.50" height="62.35" fill="#68a83f" />
<line x1="484.35" y1="433.00" x2="484.35" y2="431.30" stroke="#222" stroke-width="1.3" />
<line x1="480.35" y1="431.30" x2="488.35" y2="431.30" stroke="#222" stroke-width="1.3" />
<text x="474.40" y="506.65" font-size="8.20" fill="#2a2a2a" textLength="20.20" lengthAdjust="spacingAndGlyphs">1 μM</text>
<text transform="translate(223.84,396.80) rotate(-90)" x="0" y="0" font-size="8.60" fill="#2a2a2a" text-anchor="middle" textLength="139.00" lengthAdjust="spacingAndGlyphs">Mean relative resorufin fluorescence</text>
<text x="7.20" y="529.50" font-size="14.68" font-weight="bold" fill="#111" stroke="#111" stroke-width="0.35" textLength="8.90" lengthAdjust="spacingAndGlyphs">E</text>
<text x="63.80" y="540.50" font-size="8.40" font-weight="bold" stroke="#111" stroke-width="0.22" fill="#111" textLength="27.50" lengthAdjust="spacingAndGlyphs">MM.1S</text>
<text x="146.70" y="540.40" font-size="8.40" font-weight="bold" stroke="#111" stroke-width="0.22" fill="#111" textLength="44.70" lengthAdjust="spacingAndGlyphs">MM.1S.res</text>
<line x1="30.50" y1="545.20" x2="124.00" y2="545.20" stroke="#111" stroke-width="1.1" />
<line x1="128.00" y1="545.20" x2="210.80" y2="545.20" stroke="#111" stroke-width="1.1" />
<text x="50.00" y="565.60" font-size="8.40" fill="#2a2a2a" textLength="26.30" lengthAdjust="spacingAndGlyphs">Control</text>
<text x="97.50" y="555.30" font-size="8.40" fill="#2a2a2a" textLength="12.50" lengthAdjust="spacingAndGlyphs">Len</text>
<text x="93.00" y="565.60" font-size="8.40" fill="#2a2a2a" textLength="22.00" lengthAdjust="spacingAndGlyphs">10 μM</text>
<text x="133.70" y="565.60" font-size="8.40" fill="#2a2a2a" textLength="26.60" lengthAdjust="spacingAndGlyphs">Control</text>
<text x="180.00" y="555.30" font-size="8.40" fill="#2a2a2a" textLength="13.50" lengthAdjust="spacingAndGlyphs">Len</text>
<text x="176.00" y="565.60" font-size="8.40" fill="#2a2a2a" textLength="22.60" lengthAdjust="spacingAndGlyphs">10 μM</text>
<text x="215.20" y="598.40" font-size="8.40" fill="#2a2a2a" textLength="41.80" lengthAdjust="spacingAndGlyphs">IgL-λ Dimer</text>
<text x="215.20" y="636.00" font-size="8.40" fill="#2a2a2a" textLength="18.80" lengthAdjust="spacingAndGlyphs">IgL-λ</text>
<text x="215.20" y="662.60" font-size="8.40" fill="#2a2a2a" textLength="23.10" lengthAdjust="spacingAndGlyphs">CRBN</text>
<text x="215.20" y="691.80" font-size="8.40" fill="#2a2a2a" textLength="25.10" lengthAdjust="spacingAndGlyphs">β-Actin</text>
<clipPath id="c1"><rect x="29.80" y="567.40" width="181.80" height="80.60"/></clipPath>
<g clip-path="url(#c1)">
<rect x="29.80" y="567.40" width="181.80" height="80.60" fill="rgb(206,206,206)" />
<rect x="29.80" y="567.40" width="181.80" height="14.60" fill="rgb(214,214,214)" filter="url(#b20)"/>
<rect x="42.00" y="572.00" width="36.00" height="52.00" rx="3.00" ry="26.00" fill="rgb(218,218,218)" filter="url(#b20)"/>
<rect x="84.00" y="572.00" width="39.00" height="52.00" rx="3.00" ry="26.00" fill="rgb(218,218,218)" filter="url(#b20)"/>
<rect x="129.00" y="572.00" width="33.00" height="52.00" rx="3.00" ry="26.00" fill="rgb(218,218,218)" filter="url(#b20)"/>
<rect x="170.00" y="572.00" width="36.00" height="52.00" rx="3.00" ry="26.00" fill="rgb(218,218,218)" filter="url(#b20)"/>
<rect x="45.00" y="592.00" width="31.00" height="8.00" rx="5.00" ry="4.00" fill="rgb(165,165,165)" filter="url(#b15)"/>
<path d="M85.00,596.05 C85.00,593.05 87.21,590.60 89.90,590.60 Q103.25,591.80 116.60,590.60 C119.29,590.60 121.50,593.05 121.50,596.05 C121.50,599.05 119.29,601.50 116.60,601.50 Q103.25,600.30 89.90,601.50 C87.21,601.50 85.00,599.05 85.00,596.05 Z" fill="rgb(38,38,38)" filter="url(#b10)"/>
<rect x="130.00" y="591.80" width="29.00" height="8.20" rx="5.00" ry="4.10" fill="rgb(122,122,122)" filter="url(#b13)"/>
<rect x="172.00" y="591.80" width="32.50" height="8.20" rx="5.00" ry="4.10" fill="rgb(126,126,126)" filter="url(#b13)"/>
<path d="M33.70,632.50 C33.70,627.27 37.30,623.00 41.70,623.00 Q57.60,624.60 73.50,623.00 C77.90,623.00 81.50,627.27 81.50,632.50 C81.50,637.73 77.90,642.00 73.50,642.00 Q57.60,640.40 41.70,642.00 C37.30,642.00 33.70,637.73 33.70,632.50 Z" fill="rgb(24,24,24)" filter="url(#b10)"/>
<path d="M78.50,630.40 C78.50,625.39 82.10,621.30 86.50,621.30 Q101.75,622.90 117.00,621.30 C121.40,621.30 125.00,625.39 125.00,630.40 C125.00,635.40 121.40,639.50 117.00,639.50 Q101.75,637.90 86.50,639.50 C82.10,639.50 78.50,635.40 78.50,630.40 Z" fill="rgb(24,24,24)" filter="url(#b10)"/>
<path d="M125.50,632.15 C125.50,626.73 129.10,622.30 133.50,622.30 Q146.00,623.90 158.50,622.30 C162.90,622.30 166.50,626.73 166.50,632.15 C166.50,637.57 162.90,642.00 158.50,642.00 Q146.00,640.40 133.50,642.00 C129.10,642.00 125.50,637.57 125.50,632.15 Z" fill="rgb(24,24,24)" filter="url(#b10)"/>
<path d="M163.50,633.30 C163.50,628.07 167.10,623.80 171.50,623.80 Q187.05,625.40 202.60,623.80 C207.00,623.80 210.60,628.07 210.60,633.30 C210.60,638.52 207.00,642.80 202.60,642.80 Q187.05,641.20 171.50,642.80 C167.10,642.80 163.50,638.52 163.50,633.30 Z" fill="rgb(24,24,24)" filter="url(#b10)"/>
</g>
<rect x="30.20" y="567.80" width="181.00" height="79.80" fill="none" stroke="#6a6a6a" stroke-width="0.8"/>
<clipPath id="c2"><rect x="29.80" y="650.40" width="181.80" height="21.10"/></clipPath>
<g clip-path="url(#c2)">
<rect x="29.80" y="650.40" width="181.80" height="21.10" fill="rgb(184,184,184)" />
<rect x="36.20" y="657.80" width="35.80" height="5.80" rx="5.00" ry="2.90" fill="rgb(112,112,112)" filter="url(#b12)"/>
<rect x="84.00" y="656.60" width="35.00" height="6.00" rx="5.00" ry="3.00" fill="rgb(92,92,92)" filter="url(#b12)"/>
</g>
<rect x="30.20" y="650.80" width="181.00" height="20.30" fill="none" stroke="#6a6a6a" stroke-width="0.8"/>
<clipPath id="c3"><rect x="29.80" y="673.50" width="181.80" height="34.10"/></clipPath>
<g clip-path="url(#c3)">
<rect x="29.80" y="673.50" width="181.80" height="34.10" fill="rgb(198,198,198)" />
<path d="M37.00,690.00 C37.00,684.61 40.15,680.20 44.00,680.20 Q57.75,681.60 71.50,680.20 C75.35,680.20 78.50,684.61 78.50,690.00 C78.50,695.39 75.35,699.80 71.50,699.80 Q57.75,698.40 44.00,699.80 C40.15,699.80 37.00,695.39 37.00,690.00 Z" fill="rgb(22,22,22)" filter="url(#b10)"/>
<path d="M80.00,688.50 C80.00,683.27 83.15,679.00 87.00,679.00 Q102.25,680.40 117.50,679.00 C121.35,679.00 124.50,683.27 124.50,688.50 C124.50,693.73 121.35,698.00 117.50,698.00 Q102.25,696.60 87.00,698.00 C83.15,698.00 80.00,693.73 80.00,688.50 Z" fill="rgb(22,22,22)" filter="url(#b10)"/>
<path d="M127.50,690.80 C127.50,685.30 130.65,680.80 134.50,680.80 Q146.75,682.20 159.00,680.80 C162.85,680.80 166.00,685.30 166.00,690.80 C166.00,696.30 162.85,700.80 159.00,700.80 Q146.75,699.40 134.50,700.80 C130.65,700.80 127.50,696.30 127.50,690.80 Z" fill="rgb(22,22,22)" filter="url(#b10)"/>
<path d="M168.00,690.55 C168.00,685.19 171.15,680.80 175.00,680.80 Q187.75,682.20 200.50,680.80 C204.35,680.80 207.50,685.19 207.50,690.55 C207.50,695.91 204.35,700.30 200.50,700.30 Q187.75,698.90 175.00,700.30 C171.15,700.30 168.00,695.91 168.00,690.55 Z" fill="rgb(22,22,22)" filter="url(#b10)"/>
</g>
<rect x="30.20" y="673.90" width="181.00" height="33.30" fill="none" stroke="#6a6a6a" stroke-width="0.8"/>
<text x="266.70" y="529.20" font-size="14.53" font-weight="bold" fill="#111" stroke="#111" stroke-width="0.35" textLength="8.50" lengthAdjust="spacingAndGlyphs">F</text>
<text x="329.50" y="549.70" font-size="8.30" font-weight="bold" stroke="#111" stroke-width="0.22" fill="#111" textLength="140.00" lengthAdjust="spacingAndGlyphs">MM.1S MTT (Day 3 Posttreatment)</text>
<line x1="298.20" y1="555.60" x2="298.20" y2="687.40" stroke="#222" stroke-width="1.3" />
<line x1="297.60" y1="686.80" x2="500.00" y2="686.80" stroke="#222" stroke-width="1.3" />
<text x="291.90" y="560.10" font-size="8.40" fill="#2a2a2a" text-anchor="end" textLength="11.20" lengthAdjust="spacingAndGlyphs">1.2</text>
<text x="291.90" y="581.72" font-size="8.40" fill="#2a2a2a" text-anchor="end" textLength="11.20" lengthAdjust="spacingAndGlyphs">1.0</text>
<text x="291.90" y="603.33" font-size="8.40" fill="#2a2a2a" text-anchor="end" textLength="11.20" lengthAdjust="spacingAndGlyphs">0.8</text>
<text x="291.90" y="624.95" font-size="8.40" fill="#2a2a2a" text-anchor="end" textLength="11.20" lengthAdjust="spacingAndGlyphs">0.6</text>
<text x="291.90" y="646.57" font-size="8.40" fill="#2a2a2a" text-anchor="end" textLength="11.20" lengthAdjust="spacingAndGlyphs">0.4</text>
<text x="291.90" y="668.18" font-size="8.40" fill="#2a2a2a" text-anchor="end" textLength="11.20" lengthAdjust="spacingAndGlyphs">0.2</text>
<text x="291.90" y="689.80" font-size="8.40" fill="#2a2a2a" text-anchor="end" textLength="11.20" lengthAdjust="spacingAndGlyphs">0.0</text>
<line x1="294.70" y1="686.30" x2="298.20" y2="686.30" stroke="#222" stroke-width="1.0" />
<line x1="294.70" y1="667.95" x2="298.20" y2="667.95" stroke="#222" stroke-width="1.0" />
<line x1="294.70" y1="649.60" x2="298.20" y2="649.60" stroke="#222" stroke-width="1.0" />
<line x1="294.70" y1="631.25" x2="298.20" y2="631.25" stroke="#222" stroke-width="1.0" />
<line x1="294.70" y1="612.90" x2="298.20" y2="612.90" stroke="#222" stroke-width="1.0" />
<line x1="294.70" y1="594.55" x2="298.20" y2="594.55" stroke="#222" stroke-width="1.0" />
<line x1="294.70" y1="576.20" x2="298.20" y2="576.20" stroke="#222" stroke-width="1.0" />
<line x1="294.70" y1="557.85" x2="298.20" y2="557.85" stroke="#222" stroke-width="1.0" />
<line x1="298.20" y1="686.80" x2="298.20" y2="690.00" stroke="#222" stroke-width="1.0" />
<line x1="326.74" y1="686.80" x2="326.74" y2="690.00" stroke="#222" stroke-width="1.0" />
<line x1="355.28" y1="686.80" x2="355.28" y2="690.00" stroke="#222" stroke-width="1.0" />
<line x1="383.82" y1="686.80" x2="383.82" y2="690.00" stroke="#222" stroke-width="1.0" />
<line x1="412.36" y1="686.80" x2="412.36" y2="690.00" stroke="#222" stroke-width="1.0" />
<line x1="440.90" y1="686.80" x2="440.90" y2="690.00" stroke="#222" stroke-width="1.0" />
<line x1="469.44" y1="686.80" x2="469.44" y2="690.00" stroke="#222" stroke-width="1.0" />
<line x1="497.98" y1="686.80" x2="497.98" y2="690.00" stroke="#222" stroke-width="1.0" />
<text x="297.00" y="700.60" font-size="8.40" fill="#2a2a2a" textLength="3.60" lengthAdjust="spacingAndGlyphs">0</text>
<text x="315.00" y="700.60" font-size="8.40" fill="#2a2a2a" textLength="24.50" lengthAdjust="spacingAndGlyphs">1.5625</text>
<text x="344.50" y="700.60" font-size="8.40" fill="#2a2a2a" textLength="20.50" lengthAdjust="spacingAndGlyphs">3.125</text>
<text x="376.30" y="700.60" font-size="8.40" fill="#2a2a2a" textLength="15.70" lengthAdjust="spacingAndGlyphs">6.25</text>
<text x="406.00" y="700.60" font-size="8.40" fill="#2a2a2a" textLength="14.50" lengthAdjust="spacingAndGlyphs">12.5</text>
<text x="436.00" y="700.60" font-size="8.40" fill="#2a2a2a" textLength="9.00" lengthAdjust="spacingAndGlyphs">25</text>
<text x="465.00" y="700.60" font-size="8.40" fill="#2a2a2a" textLength="8.80" lengthAdjust="spacingAndGlyphs">50</text>
<text x="492.00" y="700.60" font-size="8.40" fill="#2a2a2a" textLength="12.50" lengthAdjust="spacingAndGlyphs">100</text>
<polyline points="298.20,594.30 326.80,648.00 355.00,649.00 383.80,649.50 412.50,650.50 440.80,650.50 469.50,650.50 498.00,650.50" fill="none" stroke="#8a1a40" stroke-width="1.7" stroke-dasharray="2.8,3.0"/>
<polyline points="298.20,594.30 326.80,587.00 355.00,587.50 383.80,585.50 412.50,583.80 440.80,585.50 469.50,581.30 498.00,588.80" fill="none" stroke="#3d527e" stroke-width="1.7"/>
<rect x="324.95" y="646.15" width="3.70" height="3.70" fill="#7a0e34" />
<rect x="353.15" y="647.15" width="3.70" height="3.70" fill="#7a0e34" />
<rect x="381.95" y="647.65" width="3.70" height="3.70" fill="#7a0e34" />
<rect x="410.65" y="648.65" width="3.70" height="3.70" fill="#7a0e34" />
<rect x="438.95" y="648.65" width="3.70" height="3.70" fill="#7a0e34" />
<rect x="467.65" y="648.65" width="3.70" height="3.70" fill="#7a0e34" />
<rect x="496.15" y="648.65" width="3.70" height="3.70" fill="#7a0e34" />
<circle cx="326.80" cy="587.00" r="1.5" fill="#3d527e"/>
<circle cx="355.00" cy="587.50" r="1.5" fill="#3d527e"/>
<circle cx="383.80" cy="585.50" r="1.5" fill="#3d527e"/>
<circle cx="412.50" cy="583.80" r="1.5" fill="#3d527e"/>
<circle cx="440.80" cy="585.50" r="1.5" fill="#3d527e"/>
<circle cx="469.50" cy="581.30" r="1.5" fill="#3d527e"/>
<circle cx="498.00" cy="588.80" r="1.5" fill="#3d527e"/>
<line x1="326.80" y1="583.30" x2="326.80" y2="590.50" stroke="#223" stroke-width="0.9" />
<line x1="325.20" y1="583.30" x2="328.40" y2="583.30" stroke="#223" stroke-width="0.9" />
<line x1="325.20" y1="590.50" x2="328.40" y2="590.50" stroke="#223" stroke-width="0.9" />
<line x1="355.00" y1="586.00" x2="355.00" y2="589.00" stroke="#223" stroke-width="0.9" />
<line x1="353.40" y1="586.00" x2="356.60" y2="586.00" stroke="#223" stroke-width="0.9" />
<line x1="353.40" y1="589.00" x2="356.60" y2="589.00" stroke="#223" stroke-width="0.9" />
<line x1="412.50" y1="580.00" x2="412.50" y2="587.00" stroke="#223" stroke-width="0.9" />
<line x1="410.90" y1="580.00" x2="414.10" y2="580.00" stroke="#223" stroke-width="0.9" />
<line x1="410.90" y1="587.00" x2="414.10" y2="587.00" stroke="#223" stroke-width="0.9" />
<line x1="440.80" y1="581.30" x2="440.80" y2="589.50" stroke="#223" stroke-width="0.9" />
<line x1="439.20" y1="581.30" x2="442.40" y2="581.30" stroke="#223" stroke-width="0.9" />
<line x1="439.20" y1="589.50" x2="442.40" y2="589.50" stroke="#223" stroke-width="0.9" />
<line x1="469.50" y1="578.00" x2="469.50" y2="584.50" stroke="#223" stroke-width="0.9" />
<line x1="467.90" y1="578.00" x2="471.10" y2="578.00" stroke="#223" stroke-width="0.9" />
<line x1="467.90" y1="584.50" x2="471.10" y2="584.50" stroke="#223" stroke-width="0.9" />
<line x1="498.00" y1="585.00" x2="498.00" y2="592.50" stroke="#223" stroke-width="0.9" />
<line x1="496.40" y1="585.00" x2="499.60" y2="585.00" stroke="#223" stroke-width="0.9" />
<line x1="496.40" y1="592.50" x2="499.60" y2="592.50" stroke="#223" stroke-width="0.9" />
<circle cx="298.20" cy="594.30" r="2.4" fill="#5e1a3c"/>
<text x="362.00" y="712.70" font-size="9.30" fill="#2a2a2a" textLength="72.50" lengthAdjust="spacingAndGlyphs">Lenalidomide (μM)</text>
<text transform="translate(275.34,622.50) rotate(-90)" x="0" y="0" font-size="8.60" fill="#2a2a2a" text-anchor="middle" textLength="116.00" lengthAdjust="spacingAndGlyphs">Viability (% untreated control)</text>
<text x="337.50" y="581.70" font-size="7.80" fill="#2a2a2a" textLength="37.50" lengthAdjust="spacingAndGlyphs">MM.1S.res</text>
<text x="344.50" y="659.90" font-size="7.80" fill="#2a2a2a" textLength="22.50" lengthAdjust="spacingAndGlyphs">MM.1S</text>
<text x="22.80" y="751.00" font-size="14.53" font-weight="bold" fill="#111" stroke="#111" stroke-width="0.35" textLength="10.40" lengthAdjust="spacingAndGlyphs">G</text>
<text x="55.00" y="761.20" font-size="8.40" font-weight="bold" stroke="#111" stroke-width="0.22" fill="#111" textLength="59.50" lengthAdjust="spacingAndGlyphs">OCIMY5-Vector</text>
<text x="148.80" y="761.20" font-size="8.40" font-weight="bold" stroke="#111" stroke-width="0.22" fill="#111" textLength="57.50" lengthAdjust="spacingAndGlyphs">OCIMY5-CRBN</text>
<line x1="44.50" y1="765.90" x2="125.00" y2="765.90" stroke="#111" stroke-width="1.1" />
<line x1="138.80" y1="765.90" x2="216.30" y2="765.90" stroke="#111" stroke-width="1.1" />
<text x="55.50" y="780.20" font-size="8.20" fill="#2a2a2a" textLength="25.00" lengthAdjust="spacingAndGlyphs">Control</text>
<text x="104.50" y="774.60" font-size="8.20" fill="#2a2a2a" textLength="13.50" lengthAdjust="spacingAndGlyphs">Len</text>
<text x="102.50" y="785.50" font-size="8.20" fill="#2a2a2a" textLength="21.30" lengthAdjust="spacingAndGlyphs">10 μM</text>
<text x="141.30" y="780.20" font-size="8.20" fill="#2a2a2a" textLength="25.00" lengthAdjust="spacingAndGlyphs">Control</text>
<text x="188.00" y="774.60" font-size="8.20" fill="#2a2a2a" textLength="12.00" lengthAdjust="spacingAndGlyphs">Len</text>
<text x="183.80" y="785.50" font-size="8.20" fill="#2a2a2a" textLength="21.70" lengthAdjust="spacingAndGlyphs">10 μM</text>
<text x="220.90" y="801.90" font-size="8.00" fill="#2a2a2a" textLength="39.50" lengthAdjust="spacingAndGlyphs">IgL-λ Dimer</text>
<text x="220.00" y="847.70" font-size="8.00" fill="#2a2a2a" textLength="17.50" lengthAdjust="spacingAndGlyphs">IgL-λ</text>
<text x="221.30" y="875.60" font-size="8.00" fill="#2a2a2a" textLength="20.70" lengthAdjust="spacingAndGlyphs">CRBN</text>
<text x="221.30" y="914.40" font-size="8.00" fill="#2a2a2a" textLength="22.50" lengthAdjust="spacingAndGlyphs">β-Actin</text>
<clipPath id="c4"><rect x="44.30" y="787.00" width="172.50" height="70.80"/></clipPath>
<g clip-path="url(#c4)">
<rect x="44.30" y="787.00" width="172.50" height="70.80" fill="rgb(226,226,226)" />
<path d="M49.60,798.05 C49.60,796.26 51.40,794.80 53.60,794.80 Q67.30,795.60 81.00,794.80 C83.20,794.80 85.00,796.26 85.00,798.05 C85.00,799.84 83.20,801.30 81.00,801.30 Q67.30,800.50 53.60,801.30 C51.40,801.30 49.60,799.84 49.60,798.05 Z" fill="rgb(88,88,88)" filter="url(#b10)"/>
<path d="M91.00,798.50 C91.00,796.69 92.80,795.20 95.00,795.20 Q108.75,796.00 122.50,795.20 C124.70,795.20 126.50,796.69 126.50,798.50 C126.50,800.31 124.70,801.80 122.50,801.80 Q108.75,801.00 95.00,801.80 C92.80,801.80 91.00,800.31 91.00,798.50 Z" fill="rgb(95,95,95)" filter="url(#b10)"/>
<path d="M133.50,799.25 C133.50,797.19 135.30,795.50 137.50,795.50 Q150.65,796.30 163.80,795.50 C166.00,795.50 167.80,797.19 167.80,799.25 C167.80,801.31 166.00,803.00 163.80,803.00 Q150.65,802.20 137.50,803.00 C135.30,803.00 133.50,801.31 133.50,799.25 Z" fill="rgb(82,82,82)" filter="url(#b10)"/>
<path d="M173.50,799.50 C173.50,796.75 175.75,794.50 178.50,794.50 Q191.25,795.50 204.00,794.50 C206.75,794.50 209.00,796.75 209.00,799.50 C209.00,802.25 206.75,804.50 204.00,804.50 Q191.25,803.50 178.50,804.50 C175.75,804.50 173.50,802.25 173.50,799.50 Z" fill="rgb(40,40,40)" filter="url(#b10)"/>
<path d="M48.00,844.45 C48.00,841.78 50.25,839.60 53.00,839.60 Q67.25,840.80 81.50,839.60 C84.25,839.60 86.50,841.78 86.50,844.45 C86.50,847.12 84.25,849.30 81.50,849.30 Q67.25,848.10 53.00,849.30 C50.25,849.30 48.00,847.12 48.00,844.45 Z" fill="rgb(22,22,22)" filter="url(#b10)"/>
<path d="M90.30,844.70 C90.30,842.00 92.55,839.80 95.30,839.80 Q110.00,841.00 124.70,839.80 C127.45,839.80 129.70,842.00 129.70,844.70 C129.70,847.40 127.45,849.60 124.70,849.60 Q110.00,848.40 95.30,849.60 C92.55,849.60 90.30,847.40 90.30,844.70 Z" fill="rgb(22,22,22)" filter="url(#b10)"/>
<path d="M132.30,845.00 C132.30,842.25 134.55,840.00 137.30,840.00 Q151.25,841.20 165.20,840.00 C167.95,840.00 170.20,842.25 170.20,845.00 C170.20,847.75 167.95,850.00 165.20,850.00 Q151.25,848.80 137.30,850.00 C134.55,850.00 132.30,847.75 132.30,845.00 Z" fill="rgb(22,22,22)" filter="url(#b10)"/>
<path d="M175.30,844.80 C175.30,841.94 177.55,839.60 180.30,839.60 Q193.00,840.80 205.70,839.60 C208.45,839.60 210.70,841.94 210.70,844.80 C210.70,847.66 208.45,850.00 205.70,850.00 Q193.00,848.80 180.30,850.00 C177.55,850.00 175.30,847.66 175.30,844.80 Z" fill="rgb(22,22,22)" filter="url(#b10)"/>
</g>
<rect x="44.70" y="787.40" width="171.70" height="70.00" fill="none" stroke="#6a6a6a" stroke-width="0.8"/>
<clipPath id="c5"><rect x="44.30" y="861.50" width="172.50" height="25.90"/></clipPath>
<g clip-path="url(#c5)">
<rect x="44.30" y="861.50" width="172.50" height="25.90" fill="rgb(218,218,218)" />
<rect x="52.00" y="859.00" width="38.00" height="31.00" rx="2.00" ry="15.50" fill="rgb(140,140,140)" filter="url(#b25)"/>
<rect x="68.00" y="866.00" width="21.00" height="16.00" rx="2.00" ry="8.00" fill="rgb(170,170,170)" filter="url(#b25)"/>
<rect x="52.00" y="858.00" width="20.00" height="10.00" rx="2.00" ry="5.00" fill="rgb(95,95,95)" filter="url(#b25)"/>
<rect x="52.50" y="879.50" width="27.50" height="10.50" rx="2.00" ry="5.25" fill="rgb(50,50,50)" filter="url(#b20)"/>
<rect x="96.50" y="859.00" width="36.00" height="31.00" rx="2.00" ry="15.50" fill="rgb(165,165,165)" filter="url(#b25)"/>
<rect x="98.00" y="858.00" width="32.00" height="8.00" rx="2.00" ry="4.00" fill="rgb(145,145,145)" filter="url(#b25)"/>
<rect x="135.00" y="859.00" width="81.80" height="31.00" rx="1.00" ry="15.50" fill="rgb(150,150,150)" filter="url(#b20)"/>
<path d="M133.50,873.75 C133.50,870.86 135.75,868.50 138.50,868.50 Q149.50,869.50 160.50,868.50 C163.25,868.50 165.50,870.86 165.50,873.75 C165.50,876.64 163.25,879.00 160.50,879.00 Q149.50,878.00 138.50,879.00 C135.75,879.00 133.50,876.64 133.50,873.75 Z" fill="rgb(24,24,24)" filter="url(#b10)"/>
<path d="M171.00,873.15 C171.00,869.93 173.25,867.30 176.00,867.30 Q190.75,868.30 205.50,867.30 C208.25,867.30 210.50,869.93 210.50,873.15 C210.50,876.37 208.25,879.00 205.50,879.00 Q190.75,878.00 176.00,879.00 C173.25,879.00 171.00,876.37 171.00,873.15 Z" fill="rgb(22,22,22)" filter="url(#b10)"/>
</g>
<rect x="44.70" y="861.90" width="171.70" height="25.10" fill="none" stroke="#6a6a6a" stroke-width="0.8"/>
<clipPath id="c6"><rect x="44.30" y="890.50" width="172.50" height="37.50"/></clipPath>
<g clip-path="url(#c6)">
<rect x="44.30" y="890.50" width="172.50" height="37.50" fill="rgb(174,174,174)" />
<path d="M44.80,908.80 C44.80,904.51 47.50,901.00 50.80,901.00 Q65.90,901.80 81.00,901.00 C84.30,901.00 87.00,904.51 87.00,908.80 C87.00,913.09 84.30,916.60 81.00,916.60 Q65.90,915.80 50.80,916.60 C47.50,916.60 44.80,913.09 44.80,908.80 Z" fill="rgb(20,20,20)" filter="url(#b10)"/>
<path d="M88.50,909.15 C88.50,904.83 91.20,901.30 94.50,901.30 Q109.00,902.10 123.50,901.30 C126.80,901.30 129.50,904.83 129.50,909.15 C129.50,913.47 126.80,917.00 123.50,917.00 Q109.00,916.20 94.50,917.00 C91.20,917.00 88.50,913.47 88.50,909.15 Z" fill="rgb(20,20,20)" filter="url(#b10)"/>
<path d="M131.00,911.25 C131.00,906.99 133.70,903.50 137.00,903.50 Q151.00,904.30 165.00,903.50 C168.30,903.50 171.00,906.99 171.00,911.25 C171.00,915.51 168.30,919.00 165.00,919.00 Q151.00,918.20 137.00,919.00 C133.70,919.00 131.00,915.51 131.00,911.25 Z" fill="rgb(20,20,20)" filter="url(#b10)"/>
<path d="M172.00,911.05 C172.00,906.79 174.70,903.30 178.00,903.30 Q192.50,904.10 207.00,903.30 C210.30,903.30 213.00,906.79 213.00,911.05 C213.00,915.31 210.30,918.80 207.00,918.80 Q192.50,918.00 178.00,918.80 C174.70,918.80 172.00,915.31 172.00,911.05 Z" fill="rgb(20,20,20)" filter="url(#b10)"/>
</g>
<rect x="44.70" y="890.90" width="171.70" height="36.70" fill="none" stroke="#6a6a6a" stroke-width="0.8"/>
<text x="264.30" y="751.00" font-size="14.53" font-weight="bold" fill="#111" stroke="#111" stroke-width="0.35" textLength="9.30" lengthAdjust="spacingAndGlyphs">H</text>
<text x="357.00" y="760.90" font-size="8.40" font-weight="bold" stroke="#111" stroke-width="0.22" fill="#111" textLength="23.00" lengthAdjust="spacingAndGlyphs">OPM2</text>
<text x="297.50" y="776.00" font-size="8.80" font-weight="bold" stroke="#111" stroke-width="0.22" fill="#111" textLength="52.00" lengthAdjust="spacingAndGlyphs">No Treatment</text>
<text x="375.50" y="776.00" font-size="8.80" font-weight="bold" stroke="#111" stroke-width="0.22" fill="#111" textLength="78.30" lengthAdjust="spacingAndGlyphs">Lenalidomide 10 μM</text>
<line x1="283.80" y1="780.90" x2="363.80" y2="780.90" stroke="#111" stroke-width="1.1" />
<line x1="375.00" y1="780.90" x2="454.50" y2="780.90" stroke="#111" stroke-width="1.1" />
<text x="290.50" y="790.40" font-size="8.20" fill="#2a2a2a" textLength="34.00" lengthAdjust="spacingAndGlyphs">Nontarget</text>
<text x="334.50" y="790.40" font-size="8.20" fill="#2a2a2a" textLength="33.00" lengthAdjust="spacingAndGlyphs">sh-CRBN</text>
<text x="377.50" y="790.40" font-size="8.20" fill="#2a2a2a" textLength="33.80" lengthAdjust="spacingAndGlyphs">Nontarget</text>
<text x="418.80" y="790.40" font-size="8.20" fill="#2a2a2a" textLength="32.50" lengthAdjust="spacingAndGlyphs">sh-CRBN</text>
<text x="458.10" y="804.10" font-size="8.00" fill="#2a2a2a" textLength="39.40" lengthAdjust="spacingAndGlyphs">IgL-λ Dimer</text>
<text x="457.80" y="857.50" font-size="8.00" fill="#2a2a2a" textLength="17.00" lengthAdjust="spacingAndGlyphs">IgL-λ</text>
<text x="458.80" y="882.90" font-size="8.00" fill="#2a2a2a" textLength="21.70" lengthAdjust="spacingAndGlyphs">CRBN</text>
<text x="458.80" y="914.60" font-size="8.00" fill="#2a2a2a" textLength="23.70" lengthAdjust="spacingAndGlyphs">β-Actin</text>
<clipPath id="c7"><rect x="283.50" y="793.70" width="170.70" height="70.80"/></clipPath>
<g clip-path="url(#c7)">
<rect x="283.50" y="793.70" width="170.70" height="70.80" fill="rgb(212,212,212)" />
<path d="M292.00,803.80 C292.00,802.26 293.80,801.00 296.00,801.00 Q307.00,801.80 318.00,801.00 C320.20,801.00 322.00,802.26 322.00,803.80 C322.00,805.34 320.20,806.60 318.00,806.60 Q307.00,805.80 296.00,806.60 C293.80,806.60 292.00,805.34 292.00,803.80 Z" fill="rgb(125,125,125)" filter="url(#b12)"/>
<path d="M332.00,803.80 C332.00,802.26 333.80,801.00 336.00,801.00 Q347.50,801.80 359.00,801.00 C361.20,801.00 363.00,802.26 363.00,803.80 C363.00,805.34 361.20,806.60 359.00,806.60 Q347.50,805.80 336.00,806.60 C333.80,806.60 332.00,805.34 332.00,803.80 Z" fill="rgb(128,128,128)" filter="url(#b12)"/>
<path d="M373.50,803.20 C373.50,801.22 375.30,799.60 377.50,799.60 Q390.75,800.60 404.00,799.60 C406.20,799.60 408.00,801.22 408.00,803.20 C408.00,805.18 406.20,806.80 404.00,806.80 Q390.75,805.80 377.50,806.80 C375.30,806.80 373.50,805.18 373.50,803.20 Z" fill="rgb(22,22,22)" filter="url(#b10)"/>
<path d="M417.00,802.80 C417.00,801.15 418.80,799.80 421.00,799.80 Q433.00,800.60 445.00,799.80 C447.20,799.80 449.00,801.15 449.00,802.80 C449.00,804.45 447.20,805.80 445.00,805.80 Q433.00,805.00 421.00,805.80 C418.80,805.80 417.00,804.45 417.00,802.80 Z" fill="rgb(135,135,135)" filter="url(#b12)"/>
<rect x="434.00" y="799.60" width="15.00" height="6.20" rx="3.00" ry="3.10" fill="rgb(80,80,80)" filter="url(#b15)"/>
<path d="M287.00,854.00 C287.00,852.24 288.80,850.80 291.00,850.80 Q303.00,851.60 315.00,850.80 C317.20,850.80 319.00,852.24 319.00,854.00 C319.00,855.76 317.20,857.20 315.00,857.20 Q303.00,856.40 291.00,857.20 C288.80,857.20 287.00,855.76 287.00,854.00 Z" fill="rgb(75,75,75)" filter="url(#b12)"/>
<rect x="287.00" y="850.80" width="11.00" height="6.40" rx="3.00" ry="3.20" fill="rgb(40,40,40)" filter="url(#b12)"/>
<path d="M331.00,854.25 C331.00,852.63 332.80,851.30 335.00,851.30 Q346.25,852.10 357.50,851.30 C359.70,851.30 361.50,852.63 361.50,854.25 C361.50,855.87 359.70,857.20 357.50,857.20 Q346.25,856.40 335.00,857.20 C332.80,857.20 331.00,855.87 331.00,854.25 Z" fill="rgb(112,112,112)" filter="url(#b12)"/>
<path d="M372.30,854.10 C372.30,852.28 374.10,850.80 376.30,850.80 Q390.15,851.60 404.00,850.80 C406.20,850.80 408.00,852.28 408.00,854.10 C408.00,855.91 406.20,857.40 404.00,857.40 Q390.15,856.60 376.30,857.40 C374.10,857.40 372.30,855.91 372.30,854.10 Z" fill="rgb(30,30,30)" filter="url(#b10)"/>
<path d="M416.00,854.35 C416.00,852.67 417.80,851.30 420.00,851.30 Q432.50,852.10 445.00,851.30 C447.20,851.30 449.00,852.67 449.00,854.35 C449.00,856.03 447.20,857.40 445.00,857.40 Q432.50,856.60 420.00,857.40 C417.80,857.40 416.00,856.03 416.00,854.35 Z" fill="rgb(125,125,125)" filter="url(#b12)"/>
<rect x="283.50" y="860.50" width="5.50" height="4.00" rx="2.00" ry="2.00" fill="rgb(70,70,70)" filter="url(#b12)"/>
</g>
<rect x="283.90" y="794.10" width="169.90" height="70.00" fill="none" stroke="#6a6a6a" stroke-width="0.8"/>
<clipPath id="c8"><rect x="283.50" y="867.20" width="170.70" height="27.80"/></clipPath>
<g clip-path="url(#c8)">
<rect x="283.50" y="867.20" width="170.70" height="27.80" fill="rgb(205,205,205)" />
<path d="M288.50,881.40 C288.50,877.77 290.75,874.80 293.50,874.80 Q306.25,875.80 319.00,874.80 C321.75,874.80 324.00,877.77 324.00,881.40 C324.00,885.03 321.75,888.00 319.00,888.00 Q306.25,887.00 293.50,888.00 C290.75,888.00 288.50,885.03 288.50,881.40 Z" fill="rgb(42,42,42)" filter="url(#b20)"/>
<path d="M333.50,882.25 C333.50,879.36 335.75,877.00 338.50,877.00 Q349.50,877.60 360.50,877.00 C363.25,877.00 365.50,879.36 365.50,882.25 C365.50,885.14 363.25,887.50 360.50,887.50 Q349.50,886.90 338.50,887.50 C335.75,887.50 333.50,885.14 333.50,882.25 Z" fill="rgb(148,148,148)" filter="url(#b30)"/>
<path d="M373.30,882.20 C373.30,878.68 375.55,875.80 378.30,875.80 Q390.80,876.80 403.30,875.80 C406.05,875.80 408.30,878.68 408.30,882.20 C408.30,885.72 406.05,888.60 403.30,888.60 Q390.80,887.60 378.30,888.60 C375.55,888.60 373.30,885.72 373.30,882.20 Z" fill="rgb(34,34,34)" filter="url(#b20)"/>
<path d="M416.50,882.25 C416.50,879.36 418.75,877.00 421.50,877.00 Q432.25,877.60 443.00,877.00 C445.75,877.00 448.00,879.36 448.00,882.25 C448.00,885.14 445.75,887.50 443.00,887.50 Q432.25,886.90 421.50,887.50 C418.75,887.50 416.50,885.14 416.50,882.25 Z" fill="rgb(138,138,138)" filter="url(#b30)"/>
</g>
<rect x="283.90" y="867.60" width="169.90" height="27.00" fill="none" stroke="#6a6a6a" stroke-width="0.8"/>
<clipPath id="c9"><rect x="283.50" y="898.00" width="170.70" height="30.50"/></clipPath>
<g clip-path="url(#c9)">
<rect x="283.50" y="898.00" width="170.70" height="30.50" fill="rgb(203,203,203)" />
<path d="M288.50,913.75 C288.50,909.76 291.65,906.50 295.50,906.50 Q307.75,908.50 320.00,906.50 C323.85,906.50 327.00,909.76 327.00,913.75 C327.00,917.74 323.85,921.00 320.00,921.00 Q307.75,919.00 295.50,921.00 C291.65,921.00 288.50,917.74 288.50,913.75 Z" fill="rgb(20,20,20)" filter="url(#b10)"/>
<path d="M330.00,913.55 C330.00,909.56 333.15,906.30 337.00,906.30 Q349.00,908.30 361.00,906.30 C364.85,906.30 368.00,909.56 368.00,913.55 C368.00,917.54 364.85,920.80 361.00,920.80 Q349.00,918.80 337.00,920.80 C333.15,920.80 330.00,917.54 330.00,913.55 Z" fill="rgb(20,20,20)" filter="url(#b10)"/>
<path d="M371.00,914.40 C371.00,909.67 374.15,905.80 378.00,905.80 Q390.25,907.80 402.50,905.80 C406.35,905.80 409.50,909.67 409.50,914.40 C409.50,919.13 406.35,923.00 402.50,923.00 Q390.25,921.00 378.00,923.00 C374.15,923.00 371.00,919.13 371.00,914.40 Z" fill="rgb(20,20,20)" filter="url(#b10)"/>
<path d="M411.00,912.80 C411.00,908.40 414.15,904.80 418.00,904.80 Q430.75,906.80 443.50,904.80 C447.35,904.80 450.50,908.40 450.50,912.80 C450.50,917.20 447.35,920.80 443.50,920.80 Q430.75,918.80 418.00,920.80 C414.15,920.80 411.00,917.20 411.00,912.80 Z" fill="rgb(20,20,20)" filter="url(#b10)"/>
</g>
<rect x="283.90" y="898.40" width="169.90" height="29.70" fill="none" stroke="#6a6a6a" stroke-width="0.8"/>
<text x="26.50" y="944.00" font-size="14.68" font-weight="bold" fill="#111" stroke="#111" stroke-width="0.35" textLength="3.70" lengthAdjust="spacingAndGlyphs">I</text>
<text x="93.80" y="957.70" font-size="8.30" font-weight="bold" stroke="#111" stroke-width="0.22" fill="#111" textLength="118.20" lengthAdjust="spacingAndGlyphs">OCIMY5 (Day 3 Posttreatment)</text>
<line x1="56.30" y1="962.80" x2="56.30" y2="1086.60" stroke="#222" stroke-width="1.3" />
<line x1="55.70" y1="1086.00" x2="250.80" y2="1086.00" stroke="#222" stroke-width="1.3" />
<line x1="52.80" y1="964.30" x2="56.30" y2="964.30" stroke="#222" stroke-width="1.0" />
<text x="51.30" y="967.30" font-size="8.40" fill="#2a2a2a" text-anchor="end" textLength="11.30" lengthAdjust="spacingAndGlyphs">1.2</text>
<line x1="52.80" y1="984.58" x2="56.30" y2="984.58" stroke="#222" stroke-width="1.0" />
<text x="51.30" y="987.58" font-size="8.40" fill="#2a2a2a" text-anchor="end" textLength="11.30" lengthAdjust="spacingAndGlyphs">1.0</text>
<line x1="52.80" y1="1004.87" x2="56.30" y2="1004.87" stroke="#222" stroke-width="1.0" />
<text x="51.30" y="1007.87" font-size="8.40" fill="#2a2a2a" text-anchor="end" textLength="11.30" lengthAdjust="spacingAndGlyphs">0.8</text>
<line x1="52.80" y1="1025.15" x2="56.30" y2="1025.15" stroke="#222" stroke-width="1.0" />
<text x="51.30" y="1028.15" font-size="8.40" fill="#2a2a2a" text-anchor="end" textLength="11.30" lengthAdjust="spacingAndGlyphs">0.6</text>
<line x1="52.80" y1="1045.43" x2="56.30" y2="1045.43" stroke="#222" stroke-width="1.0" />
<text x="51.30" y="1048.43" font-size="8.40" fill="#2a2a2a" text-anchor="end" textLength="11.30" lengthAdjust="spacingAndGlyphs">0.4</text>
<line x1="52.80" y1="1065.72" x2="56.30" y2="1065.72" stroke="#222" stroke-width="1.0" />
<text x="51.30" y="1068.72" font-size="8.40" fill="#2a2a2a" text-anchor="end" textLength="11.30" lengthAdjust="spacingAndGlyphs">0.2</text>
<line x1="52.80" y1="1086.00" x2="56.30" y2="1086.00" stroke="#222" stroke-width="1.0" />
<text x="51.30" y="1089.00" font-size="8.40" fill="#2a2a2a" text-anchor="end" textLength="11.30" lengthAdjust="spacingAndGlyphs">0.0</text>
<line x1="56.30" y1="1086.00" x2="56.30" y2="1089.20" stroke="#222" stroke-width="1.0" />
<line x1="83.60" y1="1086.00" x2="83.60" y2="1089.20" stroke="#222" stroke-width="1.0" />
<line x1="110.90" y1="1086.00" x2="110.90" y2="1089.20" stroke="#222" stroke-width="1.0" />
<line x1="138.20" y1="1086.00" x2="138.20" y2="1089.20" stroke="#222" stroke-width="1.0" />
<line x1="165.50" y1="1086.00" x2="165.50" y2="1089.20" stroke="#222" stroke-width="1.0" />
<line x1="192.80" y1="1086.00" x2="192.80" y2="1089.20" stroke="#222" stroke-width="1.0" />
<line x1="220.10" y1="1086.00" x2="220.10" y2="1089.20" stroke="#222" stroke-width="1.0" />
<line x1="247.40" y1="1086.00" x2="247.40" y2="1089.20" stroke="#222" stroke-width="1.0" />
<text x="54.50" y="1098.60" font-size="8.40" fill="#2a2a2a" textLength="3.70" lengthAdjust="spacingAndGlyphs">0</text>
<text x="72.50" y="1098.60" font-size="8.40" fill="#2a2a2a" textLength="22.50" lengthAdjust="spacingAndGlyphs">1.5625</text>
<text x="101.30" y="1098.60" font-size="8.40" fill="#2a2a2a" textLength="19.20" lengthAdjust="spacingAndGlyphs">3.125</text>
<text x="131.70" y="1098.60" font-size="8.40" fill="#2a2a2a" textLength="13.80" lengthAdjust="spacingAndGlyphs">6.25</text>
<text x="159.00" y="1098.60" font-size="8.40" fill="#2a2a2a" textLength="14.00" lengthAdjust="spacingAndGlyphs">12.5</text>
<text x="188.30" y="1098.60" font-size="8.40" fill="#2a2a2a" textLength="8.70" lengthAdjust="spacingAndGlyphs">25</text>
<text x="216.00" y="1098.60" font-size="8.40" fill="#2a2a2a" textLength="8.60" lengthAdjust="spacingAndGlyphs">50</text>
<text x="241.50" y="1098.60" font-size="8.40" fill="#2a2a2a" textLength="11.70" lengthAdjust="spacingAndGlyphs">100</text>
<polyline points="56.30,984.50 82.50,1020.50 110.80,1025.50 137.50,1026.10 165.20,1029.00 192.70,1029.00 220.20,1029.50 247.40,1031.50" fill="none" stroke="#8a1a40" stroke-width="1.7" stroke-dasharray="2.8,3.0"/>
<polyline points="56.30,984.50 83.00,985.50 110.80,988.80 137.50,985.70 165.20,988.70 192.70,988.70 220.20,989.80 247.40,989.80" fill="none" stroke="#3d527e" stroke-width="1.7"/>
<rect x="80.65" y="1018.65" width="3.70" height="3.70" fill="#7a0e34" />
<rect x="108.95" y="1023.65" width="3.70" height="3.70" fill="#7a0e34" />
<rect x="135.65" y="1024.25" width="3.70" height="3.70" fill="#7a0e34" />
<rect x="163.35" y="1027.15" width="3.70" height="3.70" fill="#7a0e34" />
<rect x="190.85" y="1027.15" width="3.70" height="3.70" fill="#7a0e34" />
<rect x="218.35" y="1027.65" width="3.70" height="3.70" fill="#7a0e34" />
<rect x="245.55" y="1029.65" width="3.70" height="3.70" fill="#7a0e34" />
<circle cx="83.00" cy="985.50" r="1.5" fill="#3d527e"/>
<circle cx="110.80" cy="988.80" r="1.5" fill="#3d527e"/>
<circle cx="137.50" cy="985.70" r="1.5" fill="#3d527e"/>
<circle cx="165.20" cy="988.70" r="1.5" fill="#3d527e"/>
<circle cx="192.70" cy="988.70" r="1.5" fill="#3d527e"/>
<circle cx="220.20" cy="989.80" r="1.5" fill="#3d527e"/>
<circle cx="247.40" cy="989.80" r="1.5" fill="#3d527e"/>
<line x1="83.00" y1="982.00" x2="83.00" y2="989.00" stroke="#223" stroke-width="0.9" />
<line x1="81.40" y1="982.00" x2="84.60" y2="982.00" stroke="#223" stroke-width="0.9" />
<line x1="81.40" y1="989.00" x2="84.60" y2="989.00" stroke="#223" stroke-width="0.9" />
<line x1="110.80" y1="987.00" x2="110.80" y2="990.50" stroke="#223" stroke-width="0.9" />
<line x1="109.20" y1="987.00" x2="112.40" y2="987.00" stroke="#223" stroke-width="0.9" />
<line x1="109.20" y1="990.50" x2="112.40" y2="990.50" stroke="#223" stroke-width="0.9" />
<line x1="165.20" y1="986.50" x2="165.20" y2="991.00" stroke="#223" stroke-width="0.9" />
<line x1="163.60" y1="986.50" x2="166.80" y2="986.50" stroke="#223" stroke-width="0.9" />
<line x1="163.60" y1="991.00" x2="166.80" y2="991.00" stroke="#223" stroke-width="0.9" />
<line x1="192.70" y1="985.20" x2="192.70" y2="992.50" stroke="#223" stroke-width="0.9" />
<line x1="191.10" y1="985.20" x2="194.30" y2="985.20" stroke="#223" stroke-width="0.9" />
<line x1="191.10" y1="992.50" x2="194.30" y2="992.50" stroke="#223" stroke-width="0.9" />
<line x1="220.20" y1="988.00" x2="220.20" y2="991.50" stroke="#223" stroke-width="0.9" />
<line x1="218.60" y1="988.00" x2="221.80" y2="988.00" stroke="#223" stroke-width="0.9" />
<line x1="218.60" y1="991.50" x2="221.80" y2="991.50" stroke="#223" stroke-width="0.9" />
<line x1="247.40" y1="988.00" x2="247.40" y2="991.50" stroke="#223" stroke-width="0.9" />
<line x1="245.80" y1="988.00" x2="249.00" y2="988.00" stroke="#223" stroke-width="0.9" />
<line x1="245.80" y1="991.50" x2="249.00" y2="991.50" stroke="#223" stroke-width="0.9" />
<circle cx="56.30" cy="984.50" r="2.5" fill="#8c1040"/>
<text x="116.00" y="1111.10" font-size="9.30" fill="#2a2a2a" textLength="68.60" lengthAdjust="spacingAndGlyphs">Lenalidomide (μM)</text>
<text transform="translate(33.94,1025.40) rotate(-90)" x="0" y="0" font-size="8.30" fill="#2a2a2a" text-anchor="middle" textLength="108.50" lengthAdjust="spacingAndGlyphs">Viability (% untreated control)</text>
<text x="118.00" y="981.30" font-size="7.60" fill="#2a2a2a" textLength="52.30" lengthAdjust="spacingAndGlyphs">OCIMY5-Vector</text>
<text x="118.00" y="1038.90" font-size="7.60" fill="#2a2a2a" textLength="52.30" lengthAdjust="spacingAndGlyphs">OCIMY5-CRBN</text>
<text x="264.90" y="944.30" font-size="15.12" font-weight="bold" fill="#111" stroke="#111" stroke-width="0.35" textLength="7.70" lengthAdjust="spacingAndGlyphs">J</text>
<text x="327.00" y="957.90" font-size="8.30" font-weight="bold" stroke="#111" stroke-width="0.22" fill="#111" textLength="128.90" lengthAdjust="spacingAndGlyphs">OPM2 MTT (Day 3 Posttreatment)</text>
<line x1="295.80" y1="963.00" x2="295.80" y2="1086.90" stroke="#222" stroke-width="1.3" />
<line x1="295.20" y1="1086.30" x2="487.70" y2="1086.30" stroke="#222" stroke-width="1.3" />
<line x1="292.30" y1="964.50" x2="295.80" y2="964.50" stroke="#222" stroke-width="1.0" />
<text x="291.30" y="967.50" font-size="8.40" fill="#2a2a2a" text-anchor="end" textLength="11.80" lengthAdjust="spacingAndGlyphs">1.2</text>
<line x1="292.30" y1="984.80" x2="295.80" y2="984.80" stroke="#222" stroke-width="1.0" />
<text x="291.30" y="987.80" font-size="8.40" fill="#2a2a2a" text-anchor="end" textLength="11.80" lengthAdjust="spacingAndGlyphs">1.0</text>
<line x1="292.30" y1="1005.10" x2="295.80" y2="1005.10" stroke="#222" stroke-width="1.0" />
<text x="291.30" y="1008.10" font-size="8.40" fill="#2a2a2a" text-anchor="end" textLength="11.80" lengthAdjust="spacingAndGlyphs">0.8</text>
<line x1="292.30" y1="1025.40" x2="295.80" y2="1025.40" stroke="#222" stroke-width="1.0" />
<text x="291.30" y="1028.40" font-size="8.40" fill="#2a2a2a" text-anchor="end" textLength="11.80" lengthAdjust="spacingAndGlyphs">0.6</text>
<line x1="292.30" y1="1045.70" x2="295.80" y2="1045.70" stroke="#222" stroke-width="1.0" />
<text x="291.30" y="1048.70" font-size="8.40" fill="#2a2a2a" text-anchor="end" textLength="11.80" lengthAdjust="spacingAndGlyphs">0.4</text>
<line x1="292.30" y1="1066.00" x2="295.80" y2="1066.00" stroke="#222" stroke-width="1.0" />
<text x="291.30" y="1069.00" font-size="8.40" fill="#2a2a2a" text-anchor="end" textLength="11.80" lengthAdjust="spacingAndGlyphs">0.2</text>
<line x1="292.30" y1="1086.30" x2="295.80" y2="1086.30" stroke="#222" stroke-width="1.0" />
<text x="291.30" y="1089.30" font-size="8.40" fill="#2a2a2a" text-anchor="end" textLength="11.80" lengthAdjust="spacingAndGlyphs">0.0</text>
<line x1="295.80" y1="1086.30" x2="295.80" y2="1089.50" stroke="#222" stroke-width="1.0" />
<line x1="322.76" y1="1086.30" x2="322.76" y2="1089.50" stroke="#222" stroke-width="1.0" />
<line x1="349.72" y1="1086.30" x2="349.72" y2="1089.50" stroke="#222" stroke-width="1.0" />
<line x1="376.68" y1="1086.30" x2="376.68" y2="1089.50" stroke="#222" stroke-width="1.0" />
<line x1="403.64" y1="1086.30" x2="403.64" y2="1089.50" stroke="#222" stroke-width="1.0" />
<line x1="430.60" y1="1086.30" x2="430.60" y2="1089.50" stroke="#222" stroke-width="1.0" />
<line x1="457.56" y1="1086.30" x2="457.56" y2="1089.50" stroke="#222" stroke-width="1.0" />
<line x1="484.52" y1="1086.30" x2="484.52" y2="1089.50" stroke="#222" stroke-width="1.0" />
<text x="293.30" y="1098.90" font-size="8.40" fill="#2a2a2a" textLength="4.20" lengthAdjust="spacingAndGlyphs">0</text>
<text x="311.30" y="1098.90" font-size="8.40" fill="#2a2a2a" textLength="23.00" lengthAdjust="spacingAndGlyphs">1.5625</text>
<text x="340.00" y="1098.90" font-size="8.40" fill="#2a2a2a" textLength="19.50" lengthAdjust="spacingAndGlyphs">3.125</text>
<text x="371.30" y="1098.90" font-size="8.40" fill="#2a2a2a" textLength="12.50" lengthAdjust="spacingAndGlyphs">6.25</text>
<text x="396.70" y="1098.90" font-size="8.40" fill="#2a2a2a" textLength="14.30" lengthAdjust="spacingAndGlyphs">12.5</text>
<text x="426.30" y="1098.90" font-size="8.40" fill="#2a2a2a" textLength="8.10" lengthAdjust="spacingAndGlyphs">25</text>
<text x="453.20" y="1098.90" font-size="8.40" fill="#2a2a2a" textLength="8.90" lengthAdjust="spacingAndGlyphs">50</text>
<text x="478.30" y="1098.90" font-size="8.40" fill="#2a2a2a" textLength="12.10" lengthAdjust="spacingAndGlyphs">100</text>
<path d="M295.80,984.50 C300.25,990.13 313.55,1011.83 322.50,1018.30 C331.45,1024.77 345.00,1022.47 349.50,1023.30 L376.30,1028.00 L403.70,1026.10 L430.30,1025.60 L458.00,1030.40 L484.50,1028.80" fill="none" stroke="#8a1a40" stroke-width="1.7" stroke-dasharray="2.8,3.0"/>
<path d="M295.80,984.50 C300.25,985.92 313.55,990.92 322.50,993.00 C331.45,995.08 340.53,995.92 349.50,997.00 C358.47,998.08 367.27,998.87 376.30,999.50 C385.33,1000.13 394.70,1000.35 403.70,1000.80 C412.70,1001.25 421.25,1001.43 430.30,1002.20 C439.35,1002.97 448.97,1004.20 458.00,1005.40 C467.03,1006.60 480.08,1008.73 484.50,1009.40" fill="none" stroke="#3d527e" stroke-width="1.7"/>
<rect x="320.65" y="1016.45" width="3.70" height="3.70" fill="#7a0e34" />
<rect x="347.65" y="1021.45" width="3.70" height="3.70" fill="#7a0e34" />
<rect x="374.45" y="1026.15" width="3.70" height="3.70" fill="#7a0e34" />
<rect x="401.85" y="1024.25" width="3.70" height="3.70" fill="#7a0e34" />
<rect x="428.45" y="1023.75" width="3.70" height="3.70" fill="#7a0e34" />
<rect x="456.15" y="1028.55" width="3.70" height="3.70" fill="#7a0e34" />
<rect x="482.65" y="1026.95" width="3.70" height="3.70" fill="#7a0e34" />
<circle cx="322.50" cy="993.00" r="1.5" fill="#3d527e"/>
<circle cx="349.50" cy="997.00" r="1.5" fill="#3d527e"/>
<circle cx="376.30" cy="999.50" r="1.5" fill="#3d527e"/>
<circle cx="403.70" cy="1000.80" r="1.5" fill="#3d527e"/>
<circle cx="430.30" cy="1002.20" r="1.5" fill="#3d527e"/>
<circle cx="458.00" cy="1005.40" r="1.5" fill="#3d527e"/>
<circle cx="484.50" cy="1009.40" r="1.5" fill="#3d527e"/>
<line x1="322.50" y1="990.50" x2="322.50" y2="995.50" stroke="#223" stroke-width="0.9" />
<line x1="320.90" y1="990.50" x2="324.10" y2="990.50" stroke="#223" stroke-width="0.9" />
<line x1="320.90" y1="995.50" x2="324.10" y2="995.50" stroke="#223" stroke-width="0.9" />
<line x1="349.50" y1="993.50" x2="349.50" y2="1000.50" stroke="#223" stroke-width="0.9" />
<line x1="347.90" y1="993.50" x2="351.10" y2="993.50" stroke="#223" stroke-width="0.9" />
<line x1="347.90" y1="1000.50" x2="351.10" y2="1000.50" stroke="#223" stroke-width="0.9" />
<line x1="376.30" y1="995.50" x2="376.30" y2="1003.50" stroke="#223" stroke-width="0.9" />
<line x1="374.70" y1="995.50" x2="377.90" y2="995.50" stroke="#223" stroke-width="0.9" />
<line x1="374.70" y1="1003.50" x2="377.90" y2="1003.50" stroke="#223" stroke-width="0.9" />
<line x1="403.70" y1="997.30" x2="403.70" y2="1003.20" stroke="#223" stroke-width="0.9" />
<line x1="402.10" y1="997.30" x2="405.30" y2="997.30" stroke="#223" stroke-width="0.9" />
<line x1="402.10" y1="1003.20" x2="405.30" y2="1003.20" stroke="#223" stroke-width="0.9" />
<line x1="458.00" y1="1002.00" x2="458.00" y2="1009.00" stroke="#223" stroke-width="0.9" />
<line x1="456.40" y1="1002.00" x2="459.60" y2="1002.00" stroke="#223" stroke-width="0.9" />
<line x1="456.40" y1="1009.00" x2="459.60" y2="1009.00" stroke="#223" stroke-width="0.9" />
<line x1="349.50" y1="1020.00" x2="349.50" y2="1027.00" stroke="#8a1a40" stroke-width="0.9" />
<line x1="347.90" y1="1020.00" x2="351.10" y2="1020.00" stroke="#8a1a40" stroke-width="0.9" />
<line x1="347.90" y1="1027.00" x2="351.10" y2="1027.00" stroke="#8a1a40" stroke-width="0.9" />
<line x1="403.70" y1="1023.00" x2="403.70" y2="1029.00" stroke="#8a1a40" stroke-width="0.9" />
<line x1="402.10" y1="1023.00" x2="405.30" y2="1023.00" stroke="#8a1a40" stroke-width="0.9" />
<line x1="402.10" y1="1029.00" x2="405.30" y2="1029.00" stroke="#8a1a40" stroke-width="0.9" />
<line x1="458.00" y1="1027.00" x2="458.00" y2="1033.00" stroke="#8a1a40" stroke-width="0.9" />
<line x1="456.40" y1="1027.00" x2="459.60" y2="1027.00" stroke="#8a1a40" stroke-width="0.9" />
<line x1="456.40" y1="1033.00" x2="459.60" y2="1033.00" stroke="#8a1a40" stroke-width="0.9" />
<circle cx="295.80" cy="984.50" r="2.5" fill="#8c1040"/>
<text x="354.50" y="1111.30" font-size="9.30" fill="#2a2a2a" textLength="69.90" lengthAdjust="spacingAndGlyphs">Lenalidomide (μM)</text>
<text transform="translate(273.34,1025.20) rotate(-90)" x="0" y="0" font-size="8.30" fill="#2a2a2a" text-anchor="middle" textLength="108.50" lengthAdjust="spacingAndGlyphs">Viability (% untreated control)</text>
<text x="357.00" y="993.10" font-size="7.60" fill="#2a2a2a" textLength="52.10" lengthAdjust="spacingAndGlyphs">OPM2 sh-CRBN</text>
<text x="357.00" y="1040.10" font-size="7.60" fill="#2a2a2a" textLength="53.40" lengthAdjust="spacingAndGlyphs">OPM2 Nontarget</text></svg></body></html>
